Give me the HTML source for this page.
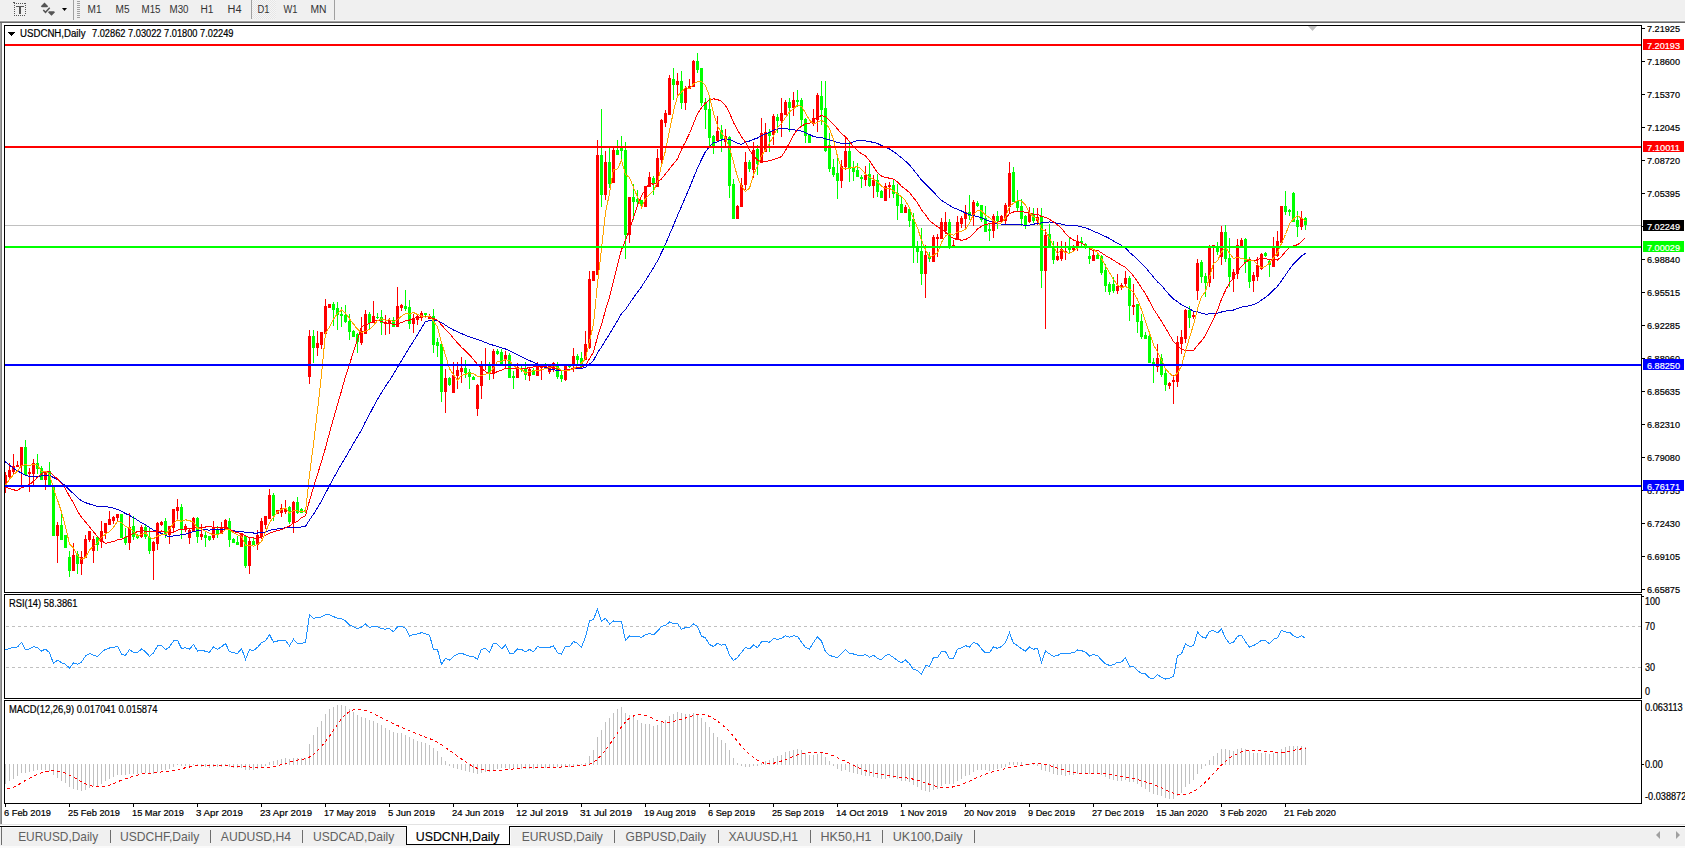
<!DOCTYPE html>
<html><head><meta charset="utf-8"><style>
html,body{margin:0;padding:0;background:#fff;}
body{width:1685px;height:848px;overflow:hidden;}
svg{display:block;font-family:"Liberation Sans", sans-serif;}
text{shape-rendering:auto}
</style></head><body>
<svg width="1685" height="848" viewBox="0 0 1685 848" shape-rendering="crispEdges">
<defs><clipPath id="cmain"><rect x="5" y="26" width="1636" height="566"/></clipPath>
<clipPath id="crsi"><rect x="5" y="595" width="1636" height="103"/></clipPath>
<clipPath id="cmacd"><rect x="5" y="701" width="1636" height="102"/></clipPath></defs>
<rect x="0" y="0" width="1685" height="21" fill="#f0f0f0"/><rect x="0" y="20" width="1685" height="1" fill="#f7f7f7"/><rect x="0" y="21" width="1685" height="1" fill="#a0a0a0"/><rect x="0" y="22" width="1685" height="1" fill="#696969"/><g fill="#555"><rect x="14" y="3" width="1" height="1"/><rect x="14" y="15" width="1" height="1"/><rect x="16" y="3" width="1" height="1"/><rect x="16" y="15" width="1" height="1"/><rect x="18" y="3" width="1" height="1"/><rect x="18" y="15" width="1" height="1"/><rect x="20" y="3" width="1" height="1"/><rect x="20" y="15" width="1" height="1"/><rect x="22" y="3" width="1" height="1"/><rect x="22" y="15" width="1" height="1"/><rect x="24" y="3" width="1" height="1"/><rect x="24" y="15" width="1" height="1"/><rect x="14" y="5" width="1" height="1"/><rect x="25" y="5" width="1" height="1"/><rect x="14" y="7" width="1" height="1"/><rect x="25" y="7" width="1" height="1"/><rect x="14" y="9" width="1" height="1"/><rect x="25" y="9" width="1" height="1"/><rect x="14" y="11" width="1" height="1"/><rect x="25" y="11" width="1" height="1"/><rect x="14" y="13" width="1" height="1"/><rect x="25" y="13" width="1" height="1"/><rect x="25" y="3" width="1" height="1"/><rect x="13" y="2" width="2" height="1"/><rect x="16" y="6" width="8" height="1"/><rect x="19" y="6" width="2" height="8"/></g><path d="M44.5 2.5L48.2 6.2L47.2 7.2H41.8L40.8 6.2Z M48 12.2L49 11.2H54L55 12.2L51.5 15.8Z" fill="#555" shape-rendering="auto"/><path d="M43.3 10L45.5 12.3L49.7 7.8" fill="none" stroke="#555" stroke-width="1.5" shape-rendering="auto"/><path d="M62 8H67L64.5 11Z" fill="#000" shape-rendering="auto"/><rect x="73" y="0" width="1" height="20" fill="#a0a0a0"/><rect x="77" y="1" width="3" height="1" fill="#a0a0a0"/><rect x="77" y="3" width="3" height="1" fill="#a0a0a0"/><rect x="77" y="5" width="3" height="1" fill="#a0a0a0"/><rect x="77" y="7" width="3" height="1" fill="#a0a0a0"/><rect x="77" y="9" width="3" height="1" fill="#a0a0a0"/><rect x="77" y="11" width="3" height="1" fill="#a0a0a0"/><rect x="77" y="13" width="3" height="1" fill="#a0a0a0"/><rect x="77" y="15" width="3" height="1" fill="#a0a0a0"/><rect x="77" y="17" width="3" height="1" fill="#a0a0a0"/><rect x="251" y="0" width="1" height="19" fill="#a0a0a0"/><defs><pattern id="chk" width="2" height="2" patternUnits="userSpaceOnUse"><rect width="2" height="2" fill="#f6f6f6"/><rect width="1" height="1" fill="#e6e6e6"/><rect x="1" y="1" width="1" height="1" fill="#e6e6e6"/></pattern></defs><rect x="252" y="0" width="24" height="19" fill="url(#chk)"/><rect x="334" y="0" width="1" height="20" fill="#a0a0a0"/><text x="87.5" y="13" font-size="10" fill="#333"  text-anchor="start" textLength="14.0" lengthAdjust="spacingAndGlyphs" >M1</text><text x="115.5" y="13" font-size="10" fill="#333"  text-anchor="start" textLength="14.0" lengthAdjust="spacingAndGlyphs" >M5</text><text x="141.5" y="13" font-size="10" fill="#333"  text-anchor="start" textLength="19.0" lengthAdjust="spacingAndGlyphs" >M15</text><text x="169.5" y="13" font-size="10" fill="#333"  text-anchor="start" textLength="19.0" lengthAdjust="spacingAndGlyphs" >M30</text><text x="200.5" y="13" font-size="10" fill="#333"  text-anchor="start" textLength="13.0" lengthAdjust="spacingAndGlyphs" >H1</text><text x="227.5" y="13" font-size="10" fill="#333"  text-anchor="start" textLength="14.0" lengthAdjust="spacingAndGlyphs" >H4</text><text x="257.5" y="13" font-size="10" fill="#333"  text-anchor="start" textLength="12.0" lengthAdjust="spacingAndGlyphs" >D1</text><text x="283.5" y="13" font-size="10" fill="#333"  text-anchor="start" textLength="14.0" lengthAdjust="spacingAndGlyphs" >W1</text><text x="310.5" y="13" font-size="10" fill="#333"  text-anchor="start" textLength="16.0" lengthAdjust="spacingAndGlyphs" >MN</text><rect x="0" y="23" width="1" height="803" fill="#a0a0a0"/><rect x="1" y="23" width="1" height="803" fill="#808080"/><path d="M4.5 25.5H1641.5V592.5H4.5Z" fill="none" stroke="#000" stroke-width="1"/><path d="M4.5 594.5H1641.5V698.5H4.5Z" fill="none" stroke="#000" stroke-width="1"/><path d="M4.5 700.5H1641.5V803.5H4.5Z" fill="none" stroke="#000" stroke-width="1"/><rect x="5" y="225" width="1636" height="1" fill="#c0c0c0"/><g clip-path="url(#cmain)"><rect x="5" y="472" width="1" height="21" fill="#ff0000"/><rect x="4" y="475" width="3" height="11" fill="#ff0000"/><rect x="9" y="463" width="1" height="15" fill="#ff0000"/><rect x="8" y="470" width="3" height="7" fill="#ff0000"/><rect x="13" y="454" width="1" height="21" fill="#ff0000"/><rect x="12" y="466" width="3" height="6" fill="#ff0000"/><rect x="17" y="461" width="1" height="6" fill="#ff0000"/><rect x="16" y="465" width="3" height="2" fill="#ff0000"/><rect x="21" y="447" width="1" height="38" fill="#ff0000"/><rect x="20" y="447" width="3" height="19" fill="#ff0000"/><rect x="25" y="440" width="1" height="35" fill="#00ff00"/><rect x="24" y="447" width="3" height="28" fill="#00ff00"/><rect x="29" y="468" width="1" height="24" fill="#ff0000"/><rect x="28" y="472" width="3" height="2" fill="#ff0000"/><rect x="33" y="459" width="1" height="27" fill="#ff0000"/><rect x="32" y="463" width="3" height="11" fill="#ff0000"/><rect x="37" y="454" width="1" height="20" fill="#00ff00"/><rect x="36" y="463" width="3" height="6" fill="#00ff00"/><rect x="41" y="466" width="1" height="14" fill="#00ff00"/><rect x="40" y="468" width="3" height="12" fill="#00ff00"/><rect x="45" y="471" width="1" height="19" fill="#ff0000"/><rect x="44" y="473" width="3" height="7" fill="#ff0000"/><rect x="49" y="462" width="1" height="24" fill="#00ff00"/><rect x="48" y="471" width="3" height="15" fill="#00ff00"/><rect x="53" y="485" width="1" height="51" fill="#00ff00"/><rect x="52" y="485" width="3" height="51" fill="#00ff00"/><rect x="57" y="522" width="1" height="41" fill="#ff0000"/><rect x="56" y="525" width="3" height="11" fill="#ff0000"/><rect x="61" y="514" width="1" height="26" fill="#00ff00"/><rect x="60" y="525" width="3" height="15" fill="#00ff00"/><rect x="65" y="535" width="1" height="13" fill="#00ff00"/><rect x="64" y="535" width="3" height="13" fill="#00ff00"/><rect x="69" y="551" width="1" height="26" fill="#00ff00"/><rect x="68" y="557" width="3" height="14" fill="#00ff00"/><rect x="73" y="543" width="1" height="28" fill="#ff0000"/><rect x="72" y="555" width="3" height="16" fill="#ff0000"/><rect x="77" y="551" width="1" height="23" fill="#00ff00"/><rect x="76" y="554" width="3" height="10" fill="#00ff00"/><rect x="81" y="551" width="1" height="24" fill="#ff0000"/><rect x="80" y="557" width="3" height="7" fill="#ff0000"/><rect x="85" y="535" width="1" height="23" fill="#ff0000"/><rect x="84" y="539" width="3" height="19" fill="#ff0000"/><rect x="89" y="531" width="1" height="11" fill="#ff0000"/><rect x="88" y="531" width="3" height="9" fill="#ff0000"/><rect x="93" y="536" width="1" height="27" fill="#ff0000"/><rect x="92" y="539" width="3" height="12" fill="#ff0000"/><rect x="97" y="537" width="1" height="14" fill="#00ff00"/><rect x="96" y="537" width="3" height="8" fill="#00ff00"/><rect x="101" y="521" width="1" height="27" fill="#ff0000"/><rect x="100" y="531" width="3" height="11" fill="#ff0000"/><rect x="105" y="523" width="1" height="16" fill="#ff0000"/><rect x="104" y="523" width="3" height="10" fill="#ff0000"/><rect x="109" y="511" width="1" height="14" fill="#ff0000"/><rect x="108" y="519" width="3" height="6" fill="#ff0000"/><rect x="113" y="516" width="1" height="8" fill="#ff0000"/><rect x="112" y="517" width="3" height="4" fill="#ff0000"/><rect x="117" y="514" width="1" height="8" fill="#ff0000"/><rect x="116" y="514" width="3" height="4" fill="#ff0000"/><rect x="121" y="514" width="1" height="24" fill="#00ff00"/><rect x="120" y="514" width="3" height="24" fill="#00ff00"/><rect x="125" y="528" width="1" height="17" fill="#00ff00"/><rect x="124" y="537" width="3" height="6" fill="#00ff00"/><rect x="129" y="513" width="1" height="37" fill="#ff0000"/><rect x="128" y="527" width="3" height="16" fill="#ff0000"/><rect x="133" y="516" width="1" height="24" fill="#00ff00"/><rect x="132" y="526" width="3" height="11" fill="#00ff00"/><rect x="137" y="534" width="1" height="5" fill="#00ff00"/><rect x="136" y="535" width="3" height="3" fill="#00ff00"/><rect x="141" y="525" width="1" height="13" fill="#ff0000"/><rect x="140" y="527" width="3" height="10" fill="#ff0000"/><rect x="145" y="525" width="1" height="14" fill="#00ff00"/><rect x="144" y="527" width="3" height="10" fill="#00ff00"/><rect x="149" y="527" width="1" height="27" fill="#00ff00"/><rect x="148" y="537" width="3" height="14" fill="#00ff00"/><rect x="153" y="541" width="1" height="39" fill="#ff0000"/><rect x="152" y="542" width="3" height="9" fill="#ff0000"/><rect x="157" y="522" width="1" height="28" fill="#ff0000"/><rect x="156" y="523" width="3" height="21" fill="#ff0000"/><rect x="161" y="521" width="1" height="5" fill="#ff0000"/><rect x="160" y="522" width="3" height="3" fill="#ff0000"/><rect x="165" y="518" width="1" height="20" fill="#00ff00"/><rect x="164" y="521" width="3" height="14" fill="#00ff00"/><rect x="169" y="526" width="1" height="18" fill="#ff0000"/><rect x="168" y="526" width="3" height="9" fill="#ff0000"/><rect x="173" y="509" width="1" height="24" fill="#ff0000"/><rect x="172" y="509" width="3" height="19" fill="#ff0000"/><rect x="177" y="499" width="1" height="21" fill="#ff0000"/><rect x="176" y="507" width="3" height="4" fill="#ff0000"/><rect x="181" y="504" width="1" height="35" fill="#00ff00"/><rect x="180" y="507" width="3" height="22" fill="#00ff00"/><rect x="185" y="524" width="1" height="8" fill="#ff0000"/><rect x="184" y="526" width="3" height="3" fill="#ff0000"/><rect x="189" y="529" width="1" height="15" fill="#ff0000"/><rect x="188" y="530" width="3" height="8" fill="#ff0000"/><rect x="193" y="517" width="1" height="15" fill="#ff0000"/><rect x="192" y="518" width="3" height="14" fill="#ff0000"/><rect x="197" y="517" width="1" height="26" fill="#00ff00"/><rect x="196" y="518" width="3" height="19" fill="#00ff00"/><rect x="201" y="524" width="1" height="16" fill="#ff0000"/><rect x="200" y="534" width="3" height="3" fill="#ff0000"/><rect x="205" y="532" width="1" height="15" fill="#00ff00"/><rect x="204" y="535" width="3" height="3" fill="#00ff00"/><rect x="209" y="536" width="1" height="5" fill="#00ff00"/><rect x="208" y="536" width="3" height="4" fill="#00ff00"/><rect x="213" y="521" width="1" height="19" fill="#ff0000"/><rect x="212" y="527" width="3" height="11" fill="#ff0000"/><rect x="217" y="526" width="1" height="12" fill="#00ff00"/><rect x="216" y="529" width="3" height="5" fill="#00ff00"/><rect x="221" y="522" width="1" height="12" fill="#ff0000"/><rect x="220" y="527" width="3" height="7" fill="#ff0000"/><rect x="225" y="519" width="1" height="11" fill="#ff0000"/><rect x="224" y="520" width="3" height="10" fill="#ff0000"/><rect x="229" y="518" width="1" height="29" fill="#00ff00"/><rect x="228" y="521" width="3" height="19" fill="#00ff00"/><rect x="233" y="538" width="1" height="5" fill="#00ff00"/><rect x="232" y="539" width="3" height="4" fill="#00ff00"/><rect x="237" y="536" width="1" height="9" fill="#00ff00"/><rect x="236" y="542" width="3" height="3" fill="#00ff00"/><rect x="241" y="533" width="1" height="14" fill="#ff0000"/><rect x="240" y="534" width="3" height="13" fill="#ff0000"/><rect x="245" y="535" width="1" height="33" fill="#00ff00"/><rect x="244" y="536" width="3" height="30" fill="#00ff00"/><rect x="249" y="538" width="1" height="36" fill="#ff0000"/><rect x="248" y="541" width="3" height="25" fill="#ff0000"/><rect x="253" y="538" width="1" height="7" fill="#00ff00"/><rect x="252" y="541" width="3" height="4" fill="#00ff00"/><rect x="257" y="530" width="1" height="20" fill="#ff0000"/><rect x="256" y="535" width="3" height="10" fill="#ff0000"/><rect x="261" y="518" width="1" height="21" fill="#ff0000"/><rect x="260" y="521" width="3" height="16" fill="#ff0000"/><rect x="265" y="516" width="1" height="13" fill="#ff0000"/><rect x="264" y="516" width="3" height="9" fill="#ff0000"/><rect x="269" y="489" width="1" height="30" fill="#ff0000"/><rect x="268" y="495" width="3" height="24" fill="#ff0000"/><rect x="273" y="493" width="1" height="28" fill="#00ff00"/><rect x="272" y="495" width="3" height="21" fill="#00ff00"/><rect x="277" y="510" width="1" height="4" fill="#ff0000"/><rect x="276" y="510" width="3" height="4" fill="#ff0000"/><rect x="281" y="504" width="1" height="13" fill="#ff0000"/><rect x="280" y="508" width="3" height="5" fill="#ff0000"/><rect x="285" y="500" width="1" height="14" fill="#ff0000"/><rect x="284" y="508" width="3" height="4" fill="#ff0000"/><rect x="289" y="506" width="1" height="18" fill="#00ff00"/><rect x="288" y="507" width="3" height="15" fill="#00ff00"/><rect x="293" y="501" width="1" height="32" fill="#ff0000"/><rect x="292" y="502" width="3" height="21" fill="#ff0000"/><rect x="297" y="497" width="1" height="17" fill="#00ff00"/><rect x="296" y="502" width="3" height="11" fill="#00ff00"/><rect x="301" y="508" width="1" height="5" fill="#00ff00"/><rect x="300" y="509" width="3" height="4" fill="#00ff00"/><rect x="305" y="509" width="1" height="4" fill="#00ff00"/><rect x="304" y="510" width="3" height="2" fill="#00ff00"/><rect x="309" y="330" width="1" height="54" fill="#ff0000"/><rect x="308" y="336" width="3" height="41" fill="#ff0000"/><rect x="313" y="330" width="1" height="33" fill="#00ff00"/><rect x="312" y="336" width="3" height="12" fill="#00ff00"/><rect x="317" y="331" width="1" height="25" fill="#ff0000"/><rect x="316" y="343" width="3" height="5" fill="#ff0000"/><rect x="321" y="332" width="1" height="17" fill="#ff0000"/><rect x="320" y="332" width="3" height="13" fill="#ff0000"/><rect x="325" y="299" width="1" height="35" fill="#ff0000"/><rect x="324" y="306" width="3" height="28" fill="#ff0000"/><rect x="329" y="304" width="1" height="4" fill="#ff0000"/><rect x="328" y="304" width="3" height="4" fill="#ff0000"/><rect x="333" y="302" width="1" height="24" fill="#00ff00"/><rect x="332" y="304" width="3" height="6" fill="#00ff00"/><rect x="337" y="302" width="1" height="28" fill="#00ff00"/><rect x="336" y="308" width="3" height="7" fill="#00ff00"/><rect x="341" y="307" width="1" height="20" fill="#00ff00"/><rect x="340" y="314" width="3" height="2" fill="#00ff00"/><rect x="345" y="305" width="1" height="18" fill="#00ff00"/><rect x="344" y="315" width="3" height="7" fill="#00ff00"/><rect x="349" y="314" width="1" height="26" fill="#00ff00"/><rect x="348" y="321" width="3" height="11" fill="#00ff00"/><rect x="353" y="330" width="1" height="7" fill="#00ff00"/><rect x="352" y="331" width="3" height="6" fill="#00ff00"/><rect x="357" y="333" width="1" height="20" fill="#00ff00"/><rect x="356" y="334" width="3" height="8" fill="#00ff00"/><rect x="361" y="317" width="1" height="28" fill="#ff0000"/><rect x="360" y="331" width="3" height="12" fill="#ff0000"/><rect x="365" y="310" width="1" height="24" fill="#ff0000"/><rect x="364" y="314" width="3" height="20" fill="#ff0000"/><rect x="369" y="312" width="1" height="17" fill="#00ff00"/><rect x="368" y="314" width="3" height="9" fill="#00ff00"/><rect x="373" y="301" width="1" height="22" fill="#ff0000"/><rect x="372" y="316" width="3" height="7" fill="#ff0000"/><rect x="377" y="313" width="1" height="6" fill="#00ff00"/><rect x="376" y="317" width="3" height="1" fill="#00ff00"/><rect x="381" y="310" width="1" height="25" fill="#00ff00"/><rect x="380" y="317" width="3" height="6" fill="#00ff00"/><rect x="385" y="315" width="1" height="20" fill="#ff0000"/><rect x="384" y="322" width="3" height="2" fill="#ff0000"/><rect x="389" y="318" width="1" height="16" fill="#ff0000"/><rect x="388" y="320" width="3" height="4" fill="#ff0000"/><rect x="393" y="317" width="1" height="10" fill="#00ff00"/><rect x="392" y="320" width="3" height="7" fill="#00ff00"/><rect x="397" y="287" width="1" height="40" fill="#ff0000"/><rect x="396" y="306" width="3" height="21" fill="#ff0000"/><rect x="401" y="304" width="1" height="7" fill="#ff0000"/><rect x="400" y="305" width="3" height="3" fill="#ff0000"/><rect x="405" y="290" width="1" height="21" fill="#00ff00"/><rect x="404" y="306" width="3" height="3" fill="#00ff00"/><rect x="409" y="300" width="1" height="29" fill="#00ff00"/><rect x="408" y="307" width="3" height="17" fill="#00ff00"/><rect x="413" y="314" width="1" height="19" fill="#ff0000"/><rect x="412" y="318" width="3" height="6" fill="#ff0000"/><rect x="417" y="315" width="1" height="10" fill="#ff0000"/><rect x="416" y="316" width="3" height="4" fill="#ff0000"/><rect x="421" y="311" width="1" height="10" fill="#ff0000"/><rect x="420" y="313" width="3" height="4" fill="#ff0000"/><rect x="425" y="313" width="1" height="3" fill="#00ff00"/><rect x="424" y="313" width="3" height="2" fill="#00ff00"/><rect x="429" y="314" width="1" height="5" fill="#ff0000"/><rect x="428" y="316" width="3" height="3" fill="#ff0000"/><rect x="433" y="309" width="1" height="44" fill="#00ff00"/><rect x="432" y="316" width="3" height="29" fill="#00ff00"/><rect x="437" y="338" width="1" height="19" fill="#00ff00"/><rect x="436" y="342" width="3" height="4" fill="#00ff00"/><rect x="441" y="344" width="1" height="58" fill="#00ff00"/><rect x="440" y="344" width="3" height="48" fill="#00ff00"/><rect x="445" y="369" width="1" height="44" fill="#ff0000"/><rect x="444" y="378" width="3" height="14" fill="#ff0000"/><rect x="449" y="377" width="1" height="9" fill="#00ff00"/><rect x="448" y="378" width="3" height="7" fill="#00ff00"/><rect x="453" y="362" width="1" height="31" fill="#ff0000"/><rect x="452" y="375" width="3" height="18" fill="#ff0000"/><rect x="457" y="362" width="1" height="27" fill="#ff0000"/><rect x="456" y="370" width="3" height="6" fill="#ff0000"/><rect x="461" y="357" width="1" height="26" fill="#ff0000"/><rect x="460" y="368" width="3" height="4" fill="#ff0000"/><rect x="465" y="360" width="1" height="18" fill="#00ff00"/><rect x="464" y="368" width="3" height="5" fill="#00ff00"/><rect x="469" y="369" width="1" height="20" fill="#00ff00"/><rect x="468" y="372" width="3" height="5" fill="#00ff00"/><rect x="473" y="376" width="1" height="4" fill="#00ff00"/><rect x="472" y="377" width="3" height="3" fill="#00ff00"/><rect x="477" y="384" width="1" height="32" fill="#ff0000"/><rect x="476" y="385" width="3" height="24" fill="#ff0000"/><rect x="481" y="361" width="1" height="38" fill="#ff0000"/><rect x="480" y="365" width="3" height="21" fill="#ff0000"/><rect x="485" y="348" width="1" height="22" fill="#ff0000"/><rect x="484" y="364" width="3" height="2" fill="#ff0000"/><rect x="489" y="362" width="1" height="18" fill="#00ff00"/><rect x="488" y="364" width="3" height="9" fill="#00ff00"/><rect x="493" y="349" width="1" height="30" fill="#ff0000"/><rect x="492" y="351" width="3" height="23" fill="#ff0000"/><rect x="497" y="349" width="1" height="6" fill="#00ff00"/><rect x="496" y="351" width="3" height="3" fill="#00ff00"/><rect x="501" y="349" width="1" height="16" fill="#00ff00"/><rect x="500" y="352" width="3" height="13" fill="#00ff00"/><rect x="505" y="351" width="1" height="17" fill="#ff0000"/><rect x="504" y="355" width="3" height="4" fill="#ff0000"/><rect x="509" y="353" width="1" height="25" fill="#00ff00"/><rect x="508" y="355" width="3" height="23" fill="#00ff00"/><rect x="513" y="371" width="1" height="18" fill="#00ff00"/><rect x="512" y="376" width="3" height="2" fill="#00ff00"/><rect x="517" y="363" width="1" height="15" fill="#ff0000"/><rect x="516" y="367" width="3" height="11" fill="#ff0000"/><rect x="521" y="366" width="1" height="6" fill="#00ff00"/><rect x="520" y="368" width="3" height="1" fill="#00ff00"/><rect x="525" y="362" width="1" height="18" fill="#00ff00"/><rect x="524" y="368" width="3" height="7" fill="#00ff00"/><rect x="529" y="368" width="1" height="13" fill="#ff0000"/><rect x="528" y="369" width="3" height="7" fill="#ff0000"/><rect x="533" y="368" width="1" height="7" fill="#00ff00"/><rect x="532" y="370" width="3" height="5" fill="#00ff00"/><rect x="537" y="362" width="1" height="14" fill="#ff0000"/><rect x="536" y="364" width="3" height="12" fill="#ff0000"/><rect x="541" y="365" width="1" height="15" fill="#ff0000"/><rect x="540" y="366" width="3" height="2" fill="#ff0000"/><rect x="545" y="363" width="1" height="5" fill="#00ff00"/><rect x="544" y="364" width="3" height="3" fill="#00ff00"/><rect x="549" y="364" width="1" height="10" fill="#ff0000"/><rect x="548" y="366" width="3" height="6" fill="#ff0000"/><rect x="553" y="362" width="1" height="10" fill="#ff0000"/><rect x="552" y="363" width="3" height="5" fill="#ff0000"/><rect x="557" y="362" width="1" height="17" fill="#00ff00"/><rect x="556" y="366" width="3" height="11" fill="#00ff00"/><rect x="561" y="371" width="1" height="11" fill="#00ff00"/><rect x="560" y="375" width="3" height="4" fill="#00ff00"/><rect x="565" y="365" width="1" height="16" fill="#ff0000"/><rect x="564" y="365" width="3" height="15" fill="#ff0000"/><rect x="569" y="364" width="1" height="4" fill="#00ff00"/><rect x="568" y="365" width="3" height="2" fill="#00ff00"/><rect x="573" y="348" width="1" height="24" fill="#ff0000"/><rect x="572" y="356" width="3" height="10" fill="#ff0000"/><rect x="577" y="354" width="1" height="11" fill="#00ff00"/><rect x="576" y="356" width="3" height="4" fill="#00ff00"/><rect x="581" y="352" width="1" height="16" fill="#00ff00"/><rect x="580" y="358" width="3" height="9" fill="#00ff00"/><rect x="585" y="331" width="1" height="29" fill="#ff0000"/><rect x="584" y="344" width="3" height="16" fill="#ff0000"/><rect x="589" y="271" width="1" height="78" fill="#ff0000"/><rect x="588" y="279" width="3" height="69" fill="#ff0000"/><rect x="593" y="271" width="1" height="10" fill="#ff0000"/><rect x="592" y="271" width="3" height="10" fill="#ff0000"/><rect x="597" y="140" width="1" height="135" fill="#ff0000"/><rect x="596" y="155" width="3" height="120" fill="#ff0000"/><rect x="601" y="109" width="1" height="98" fill="#00ff00"/><rect x="600" y="155" width="3" height="40" fill="#00ff00"/><rect x="605" y="151" width="1" height="49" fill="#ff0000"/><rect x="604" y="162" width="3" height="33" fill="#ff0000"/><rect x="609" y="148" width="1" height="40" fill="#00ff00"/><rect x="608" y="162" width="3" height="22" fill="#00ff00"/><rect x="613" y="148" width="1" height="35" fill="#ff0000"/><rect x="612" y="150" width="3" height="33" fill="#ff0000"/><rect x="617" y="140" width="1" height="15" fill="#00ff00"/><rect x="616" y="150" width="3" height="5" fill="#00ff00"/><rect x="621" y="136" width="1" height="25" fill="#00ff00"/><rect x="620" y="148" width="3" height="3" fill="#00ff00"/><rect x="625" y="142" width="1" height="117" fill="#00ff00"/><rect x="624" y="150" width="3" height="85" fill="#00ff00"/><rect x="629" y="197" width="1" height="46" fill="#ff0000"/><rect x="628" y="197" width="3" height="38" fill="#ff0000"/><rect x="633" y="184" width="1" height="36" fill="#00ff00"/><rect x="632" y="197" width="3" height="5" fill="#00ff00"/><rect x="637" y="190" width="1" height="15" fill="#00ff00"/><rect x="636" y="199" width="3" height="3" fill="#00ff00"/><rect x="641" y="200" width="1" height="7" fill="#00ff00"/><rect x="640" y="200" width="3" height="5" fill="#00ff00"/><rect x="645" y="186" width="1" height="21" fill="#ff0000"/><rect x="644" y="186" width="3" height="21" fill="#ff0000"/><rect x="649" y="172" width="1" height="15" fill="#ff0000"/><rect x="648" y="177" width="3" height="10" fill="#ff0000"/><rect x="653" y="176" width="1" height="19" fill="#00ff00"/><rect x="652" y="178" width="3" height="6" fill="#00ff00"/><rect x="657" y="149" width="1" height="38" fill="#ff0000"/><rect x="656" y="158" width="3" height="29" fill="#ff0000"/><rect x="661" y="119" width="1" height="46" fill="#ff0000"/><rect x="660" y="120" width="3" height="40" fill="#ff0000"/><rect x="665" y="110" width="1" height="17" fill="#ff0000"/><rect x="664" y="113" width="3" height="10" fill="#ff0000"/><rect x="669" y="75" width="1" height="40" fill="#ff0000"/><rect x="668" y="78" width="3" height="37" fill="#ff0000"/><rect x="673" y="68" width="1" height="32" fill="#00ff00"/><rect x="672" y="79" width="3" height="6" fill="#00ff00"/><rect x="677" y="73" width="1" height="22" fill="#ff0000"/><rect x="676" y="81" width="3" height="4" fill="#ff0000"/><rect x="681" y="71" width="1" height="38" fill="#00ff00"/><rect x="680" y="81" width="3" height="22" fill="#00ff00"/><rect x="685" y="86" width="1" height="24" fill="#ff0000"/><rect x="684" y="88" width="3" height="15" fill="#ff0000"/><rect x="689" y="79" width="1" height="10" fill="#ff0000"/><rect x="688" y="86" width="3" height="3" fill="#ff0000"/><rect x="693" y="60" width="1" height="27" fill="#ff0000"/><rect x="692" y="61" width="3" height="26" fill="#ff0000"/><rect x="697" y="53" width="1" height="20" fill="#00ff00"/><rect x="696" y="61" width="3" height="9" fill="#00ff00"/><rect x="701" y="68" width="1" height="38" fill="#00ff00"/><rect x="700" y="68" width="3" height="35" fill="#00ff00"/><rect x="705" y="98" width="1" height="31" fill="#00ff00"/><rect x="704" y="102" width="3" height="8" fill="#00ff00"/><rect x="709" y="98" width="1" height="49" fill="#00ff00"/><rect x="708" y="109" width="3" height="29" fill="#00ff00"/><rect x="713" y="135" width="1" height="19" fill="#00ff00"/><rect x="712" y="136" width="3" height="11" fill="#00ff00"/><rect x="717" y="116" width="1" height="25" fill="#ff0000"/><rect x="716" y="131" width="3" height="10" fill="#ff0000"/><rect x="721" y="125" width="1" height="27" fill="#00ff00"/><rect x="720" y="130" width="3" height="9" fill="#00ff00"/><rect x="725" y="129" width="1" height="18" fill="#ff0000"/><rect x="724" y="136" width="3" height="6" fill="#ff0000"/><rect x="729" y="136" width="1" height="62" fill="#00ff00"/><rect x="728" y="137" width="3" height="49" fill="#00ff00"/><rect x="733" y="179" width="1" height="40" fill="#00ff00"/><rect x="732" y="184" width="3" height="35" fill="#00ff00"/><rect x="737" y="205" width="1" height="14" fill="#ff0000"/><rect x="736" y="206" width="3" height="13" fill="#ff0000"/><rect x="741" y="178" width="1" height="29" fill="#ff0000"/><rect x="740" y="185" width="3" height="22" fill="#ff0000"/><rect x="745" y="152" width="1" height="38" fill="#ff0000"/><rect x="744" y="162" width="3" height="23" fill="#ff0000"/><rect x="749" y="160" width="1" height="12" fill="#00ff00"/><rect x="748" y="162" width="3" height="7" fill="#00ff00"/><rect x="753" y="142" width="1" height="36" fill="#ff0000"/><rect x="752" y="150" width="3" height="20" fill="#ff0000"/><rect x="757" y="145" width="1" height="30" fill="#00ff00"/><rect x="756" y="149" width="3" height="15" fill="#00ff00"/><rect x="761" y="118" width="1" height="45" fill="#ff0000"/><rect x="760" y="133" width="3" height="30" fill="#ff0000"/><rect x="765" y="123" width="1" height="29" fill="#ff0000"/><rect x="764" y="132" width="3" height="20" fill="#ff0000"/><rect x="769" y="129" width="1" height="23" fill="#00ff00"/><rect x="768" y="132" width="3" height="4" fill="#00ff00"/><rect x="773" y="114" width="1" height="31" fill="#ff0000"/><rect x="772" y="116" width="3" height="19" fill="#ff0000"/><rect x="777" y="114" width="1" height="19" fill="#00ff00"/><rect x="776" y="117" width="3" height="4" fill="#00ff00"/><rect x="781" y="98" width="1" height="39" fill="#ff0000"/><rect x="780" y="113" width="3" height="8" fill="#ff0000"/><rect x="785" y="100" width="1" height="15" fill="#ff0000"/><rect x="784" y="102" width="3" height="13" fill="#ff0000"/><rect x="789" y="98" width="1" height="34" fill="#00ff00"/><rect x="788" y="102" width="3" height="6" fill="#00ff00"/><rect x="793" y="92" width="1" height="24" fill="#ff0000"/><rect x="792" y="100" width="3" height="8" fill="#ff0000"/><rect x="797" y="90" width="1" height="17" fill="#00ff00"/><rect x="796" y="100" width="3" height="2" fill="#00ff00"/><rect x="801" y="98" width="1" height="28" fill="#00ff00"/><rect x="800" y="100" width="3" height="20" fill="#00ff00"/><rect x="805" y="118" width="1" height="25" fill="#00ff00"/><rect x="804" y="119" width="3" height="17" fill="#00ff00"/><rect x="809" y="135" width="1" height="8" fill="#00ff00"/><rect x="808" y="135" width="3" height="8" fill="#00ff00"/><rect x="813" y="109" width="1" height="17" fill="#ff0000"/><rect x="812" y="118" width="3" height="6" fill="#ff0000"/><rect x="817" y="93" width="1" height="39" fill="#ff0000"/><rect x="816" y="95" width="3" height="25" fill="#ff0000"/><rect x="821" y="81" width="1" height="44" fill="#00ff00"/><rect x="820" y="96" width="3" height="14" fill="#00ff00"/><rect x="825" y="81" width="1" height="71" fill="#00ff00"/><rect x="824" y="108" width="3" height="43" fill="#00ff00"/><rect x="829" y="133" width="1" height="39" fill="#00ff00"/><rect x="828" y="145" width="3" height="24" fill="#00ff00"/><rect x="833" y="159" width="1" height="18" fill="#00ff00"/><rect x="832" y="167" width="3" height="8" fill="#00ff00"/><rect x="837" y="156" width="1" height="43" fill="#00ff00"/><rect x="836" y="173" width="3" height="8" fill="#00ff00"/><rect x="841" y="160" width="1" height="28" fill="#ff0000"/><rect x="840" y="166" width="3" height="15" fill="#ff0000"/><rect x="845" y="136" width="1" height="34" fill="#ff0000"/><rect x="844" y="151" width="3" height="16" fill="#ff0000"/><rect x="849" y="141" width="1" height="41" fill="#00ff00"/><rect x="848" y="151" width="3" height="18" fill="#00ff00"/><rect x="853" y="161" width="1" height="20" fill="#00ff00"/><rect x="852" y="168" width="3" height="4" fill="#00ff00"/><rect x="857" y="163" width="1" height="14" fill="#00ff00"/><rect x="856" y="170" width="3" height="7" fill="#00ff00"/><rect x="861" y="175" width="1" height="13" fill="#00ff00"/><rect x="860" y="177" width="3" height="2" fill="#00ff00"/><rect x="865" y="166" width="1" height="20" fill="#ff0000"/><rect x="864" y="175" width="3" height="5" fill="#ff0000"/><rect x="869" y="163" width="1" height="24" fill="#00ff00"/><rect x="868" y="174" width="3" height="12" fill="#00ff00"/><rect x="873" y="175" width="1" height="23" fill="#ff0000"/><rect x="872" y="180" width="3" height="6" fill="#ff0000"/><rect x="877" y="174" width="1" height="23" fill="#00ff00"/><rect x="876" y="180" width="3" height="12" fill="#00ff00"/><rect x="881" y="190" width="1" height="8" fill="#00ff00"/><rect x="880" y="191" width="3" height="7" fill="#00ff00"/><rect x="885" y="183" width="1" height="18" fill="#ff0000"/><rect x="884" y="186" width="3" height="15" fill="#ff0000"/><rect x="889" y="182" width="1" height="16" fill="#ff0000"/><rect x="888" y="185" width="3" height="2" fill="#ff0000"/><rect x="893" y="179" width="1" height="19" fill="#00ff00"/><rect x="892" y="185" width="3" height="9" fill="#00ff00"/><rect x="897" y="184" width="1" height="36" fill="#00ff00"/><rect x="896" y="193" width="3" height="13" fill="#00ff00"/><rect x="901" y="197" width="1" height="16" fill="#00ff00"/><rect x="900" y="204" width="3" height="9" fill="#00ff00"/><rect x="905" y="205" width="1" height="8" fill="#ff0000"/><rect x="904" y="207" width="3" height="6" fill="#ff0000"/><rect x="909" y="209" width="1" height="18" fill="#00ff00"/><rect x="908" y="209" width="3" height="12" fill="#00ff00"/><rect x="913" y="213" width="1" height="50" fill="#00ff00"/><rect x="912" y="219" width="3" height="29" fill="#00ff00"/><rect x="917" y="241" width="1" height="22" fill="#00ff00"/><rect x="916" y="247" width="3" height="5" fill="#00ff00"/><rect x="921" y="228" width="1" height="57" fill="#00ff00"/><rect x="920" y="251" width="3" height="23" fill="#00ff00"/><rect x="925" y="245" width="1" height="53" fill="#ff0000"/><rect x="924" y="255" width="3" height="19" fill="#ff0000"/><rect x="929" y="252" width="1" height="10" fill="#00ff00"/><rect x="928" y="256" width="3" height="3" fill="#00ff00"/><rect x="933" y="235" width="1" height="27" fill="#ff0000"/><rect x="932" y="237" width="3" height="25" fill="#ff0000"/><rect x="937" y="234" width="1" height="23" fill="#ff0000"/><rect x="936" y="237" width="3" height="2" fill="#ff0000"/><rect x="941" y="218" width="1" height="21" fill="#ff0000"/><rect x="940" y="222" width="3" height="17" fill="#ff0000"/><rect x="945" y="212" width="1" height="22" fill="#ff0000"/><rect x="944" y="222" width="3" height="9" fill="#ff0000"/><rect x="949" y="219" width="1" height="30" fill="#00ff00"/><rect x="948" y="222" width="3" height="26" fill="#00ff00"/><rect x="953" y="240" width="1" height="7" fill="#ff0000"/><rect x="952" y="245" width="3" height="2" fill="#ff0000"/><rect x="957" y="216" width="1" height="24" fill="#ff0000"/><rect x="956" y="222" width="3" height="18" fill="#ff0000"/><rect x="961" y="216" width="1" height="12" fill="#ff0000"/><rect x="960" y="218" width="3" height="6" fill="#ff0000"/><rect x="965" y="205" width="1" height="24" fill="#ff0000"/><rect x="964" y="212" width="3" height="7" fill="#ff0000"/><rect x="969" y="195" width="1" height="25" fill="#00ff00"/><rect x="968" y="212" width="3" height="4" fill="#00ff00"/><rect x="973" y="200" width="1" height="26" fill="#ff0000"/><rect x="972" y="202" width="3" height="14" fill="#ff0000"/><rect x="977" y="201" width="1" height="6" fill="#00ff00"/><rect x="976" y="203" width="3" height="3" fill="#00ff00"/><rect x="981" y="205" width="1" height="17" fill="#00ff00"/><rect x="980" y="205" width="3" height="15" fill="#00ff00"/><rect x="985" y="206" width="1" height="26" fill="#00ff00"/><rect x="984" y="218" width="3" height="14" fill="#00ff00"/><rect x="989" y="224" width="1" height="17" fill="#00ff00"/><rect x="988" y="229" width="3" height="2" fill="#00ff00"/><rect x="993" y="214" width="1" height="24" fill="#ff0000"/><rect x="992" y="216" width="3" height="15" fill="#ff0000"/><rect x="997" y="211" width="1" height="18" fill="#00ff00"/><rect x="996" y="216" width="3" height="5" fill="#00ff00"/><rect x="1001" y="215" width="1" height="6" fill="#ff0000"/><rect x="1000" y="216" width="3" height="5" fill="#ff0000"/><rect x="1005" y="203" width="1" height="21" fill="#ff0000"/><rect x="1004" y="205" width="3" height="16" fill="#ff0000"/><rect x="1009" y="162" width="1" height="51" fill="#ff0000"/><rect x="1008" y="173" width="3" height="34" fill="#ff0000"/><rect x="1013" y="167" width="1" height="35" fill="#00ff00"/><rect x="1012" y="172" width="3" height="30" fill="#00ff00"/><rect x="1017" y="190" width="1" height="21" fill="#00ff00"/><rect x="1016" y="201" width="3" height="7" fill="#00ff00"/><rect x="1021" y="199" width="1" height="27" fill="#00ff00"/><rect x="1020" y="206" width="3" height="13" fill="#00ff00"/><rect x="1025" y="215" width="1" height="14" fill="#00ff00"/><rect x="1024" y="216" width="3" height="9" fill="#00ff00"/><rect x="1029" y="207" width="1" height="16" fill="#ff0000"/><rect x="1028" y="213" width="3" height="9" fill="#ff0000"/><rect x="1033" y="208" width="1" height="15" fill="#00ff00"/><rect x="1032" y="214" width="3" height="7" fill="#00ff00"/><rect x="1037" y="208" width="1" height="17" fill="#ff0000"/><rect x="1036" y="217" width="3" height="4" fill="#ff0000"/><rect x="1041" y="208" width="1" height="80" fill="#00ff00"/><rect x="1040" y="217" width="3" height="54" fill="#00ff00"/><rect x="1045" y="229" width="1" height="100" fill="#ff0000"/><rect x="1044" y="235" width="3" height="36" fill="#ff0000"/><rect x="1049" y="224" width="1" height="23" fill="#00ff00"/><rect x="1048" y="234" width="3" height="13" fill="#00ff00"/><rect x="1053" y="241" width="1" height="23" fill="#00ff00"/><rect x="1052" y="248" width="3" height="12" fill="#00ff00"/><rect x="1057" y="242" width="1" height="19" fill="#ff0000"/><rect x="1056" y="256" width="3" height="4" fill="#ff0000"/><rect x="1061" y="241" width="1" height="20" fill="#ff0000"/><rect x="1060" y="249" width="3" height="10" fill="#ff0000"/><rect x="1065" y="242" width="1" height="18" fill="#ff0000"/><rect x="1064" y="251" width="3" height="2" fill="#ff0000"/><rect x="1069" y="237" width="1" height="17" fill="#00ff00"/><rect x="1068" y="248" width="3" height="2" fill="#00ff00"/><rect x="1073" y="245" width="1" height="6" fill="#ff0000"/><rect x="1072" y="248" width="3" height="2" fill="#ff0000"/><rect x="1077" y="235" width="1" height="16" fill="#ff0000"/><rect x="1076" y="241" width="3" height="6" fill="#ff0000"/><rect x="1081" y="237" width="1" height="9" fill="#00ff00"/><rect x="1080" y="241" width="3" height="2" fill="#00ff00"/><rect x="1085" y="243" width="1" height="6" fill="#00ff00"/><rect x="1084" y="244" width="3" height="4" fill="#00ff00"/><rect x="1089" y="249" width="1" height="15" fill="#00ff00"/><rect x="1088" y="256" width="3" height="3" fill="#00ff00"/><rect x="1093" y="249" width="1" height="12" fill="#ff0000"/><rect x="1092" y="255" width="3" height="6" fill="#ff0000"/><rect x="1097" y="254" width="1" height="5" fill="#00ff00"/><rect x="1096" y="255" width="3" height="4" fill="#00ff00"/><rect x="1101" y="255" width="1" height="20" fill="#00ff00"/><rect x="1100" y="256" width="3" height="17" fill="#00ff00"/><rect x="1105" y="264" width="1" height="28" fill="#00ff00"/><rect x="1104" y="270" width="3" height="16" fill="#00ff00"/><rect x="1109" y="282" width="1" height="13" fill="#00ff00"/><rect x="1108" y="284" width="3" height="8" fill="#00ff00"/><rect x="1113" y="277" width="1" height="16" fill="#00ff00"/><rect x="1112" y="284" width="3" height="7" fill="#00ff00"/><rect x="1117" y="274" width="1" height="20" fill="#ff0000"/><rect x="1116" y="286" width="3" height="5" fill="#ff0000"/><rect x="1121" y="283" width="1" height="7" fill="#ff0000"/><rect x="1120" y="285" width="3" height="2" fill="#ff0000"/><rect x="1125" y="271" width="1" height="16" fill="#ff0000"/><rect x="1124" y="278" width="3" height="6" fill="#ff0000"/><rect x="1129" y="276" width="1" height="45" fill="#00ff00"/><rect x="1128" y="278" width="3" height="28" fill="#00ff00"/><rect x="1133" y="284" width="1" height="31" fill="#ff0000"/><rect x="1132" y="305" width="3" height="2" fill="#ff0000"/><rect x="1137" y="304" width="1" height="29" fill="#00ff00"/><rect x="1136" y="304" width="3" height="18" fill="#00ff00"/><rect x="1141" y="314" width="1" height="25" fill="#00ff00"/><rect x="1140" y="321" width="3" height="16" fill="#00ff00"/><rect x="1145" y="332" width="1" height="7" fill="#00ff00"/><rect x="1144" y="335" width="3" height="4" fill="#00ff00"/><rect x="1149" y="334" width="1" height="29" fill="#00ff00"/><rect x="1148" y="336" width="3" height="27" fill="#00ff00"/><rect x="1153" y="358" width="1" height="25" fill="#00ff00"/><rect x="1152" y="362" width="3" height="3" fill="#00ff00"/><rect x="1157" y="344" width="1" height="28" fill="#ff0000"/><rect x="1156" y="358" width="3" height="9" fill="#ff0000"/><rect x="1161" y="354" width="1" height="23" fill="#00ff00"/><rect x="1160" y="358" width="3" height="17" fill="#00ff00"/><rect x="1165" y="369" width="1" height="22" fill="#00ff00"/><rect x="1164" y="373" width="3" height="12" fill="#00ff00"/><rect x="1169" y="382" width="1" height="7" fill="#ff0000"/><rect x="1168" y="383" width="3" height="3" fill="#ff0000"/><rect x="1173" y="375" width="1" height="29" fill="#ff0000"/><rect x="1172" y="380" width="3" height="2" fill="#ff0000"/><rect x="1177" y="336" width="1" height="51" fill="#ff0000"/><rect x="1176" y="342" width="3" height="40" fill="#ff0000"/><rect x="1181" y="330" width="1" height="24" fill="#ff0000"/><rect x="1180" y="337" width="3" height="7" fill="#ff0000"/><rect x="1185" y="309" width="1" height="34" fill="#ff0000"/><rect x="1184" y="310" width="3" height="29" fill="#ff0000"/><rect x="1189" y="306" width="1" height="22" fill="#00ff00"/><rect x="1188" y="310" width="3" height="8" fill="#00ff00"/><rect x="1193" y="311" width="1" height="8" fill="#ff0000"/><rect x="1192" y="315" width="3" height="2" fill="#ff0000"/><rect x="1197" y="259" width="1" height="41" fill="#ff0000"/><rect x="1196" y="263" width="3" height="28" fill="#ff0000"/><rect x="1201" y="260" width="1" height="23" fill="#00ff00"/><rect x="1200" y="262" width="3" height="15" fill="#00ff00"/><rect x="1205" y="273" width="1" height="24" fill="#00ff00"/><rect x="1204" y="276" width="3" height="7" fill="#00ff00"/><rect x="1209" y="245" width="1" height="42" fill="#ff0000"/><rect x="1208" y="247" width="3" height="36" fill="#ff0000"/><rect x="1213" y="245" width="1" height="34" fill="#ff0000"/><rect x="1212" y="245" width="3" height="3" fill="#ff0000"/><rect x="1217" y="242" width="1" height="13" fill="#00ff00"/><rect x="1216" y="246" width="3" height="6" fill="#00ff00"/><rect x="1221" y="226" width="1" height="39" fill="#ff0000"/><rect x="1220" y="232" width="3" height="25" fill="#ff0000"/><rect x="1225" y="225" width="1" height="37" fill="#00ff00"/><rect x="1224" y="232" width="3" height="27" fill="#00ff00"/><rect x="1229" y="238" width="1" height="49" fill="#00ff00"/><rect x="1228" y="258" width="3" height="19" fill="#00ff00"/><rect x="1233" y="269" width="1" height="23" fill="#ff0000"/><rect x="1232" y="272" width="3" height="7" fill="#ff0000"/><rect x="1237" y="239" width="1" height="40" fill="#ff0000"/><rect x="1236" y="245" width="3" height="29" fill="#ff0000"/><rect x="1241" y="238" width="1" height="8" fill="#ff0000"/><rect x="1240" y="240" width="3" height="6" fill="#ff0000"/><rect x="1245" y="238" width="1" height="35" fill="#00ff00"/><rect x="1244" y="239" width="3" height="23" fill="#00ff00"/><rect x="1249" y="257" width="1" height="31" fill="#00ff00"/><rect x="1248" y="260" width="3" height="22" fill="#00ff00"/><rect x="1253" y="272" width="1" height="20" fill="#ff0000"/><rect x="1252" y="275" width="3" height="6" fill="#ff0000"/><rect x="1257" y="257" width="1" height="24" fill="#ff0000"/><rect x="1256" y="265" width="3" height="12" fill="#ff0000"/><rect x="1261" y="253" width="1" height="17" fill="#ff0000"/><rect x="1260" y="254" width="3" height="15" fill="#ff0000"/><rect x="1265" y="252" width="1" height="5" fill="#00ff00"/><rect x="1264" y="253" width="3" height="3" fill="#00ff00"/><rect x="1269" y="260" width="1" height="17" fill="#00ff00"/><rect x="1268" y="261" width="3" height="4" fill="#00ff00"/><rect x="1273" y="237" width="1" height="30" fill="#ff0000"/><rect x="1272" y="247" width="3" height="20" fill="#ff0000"/><rect x="1277" y="231" width="1" height="26" fill="#ff0000"/><rect x="1276" y="241" width="3" height="15" fill="#ff0000"/><rect x="1281" y="206" width="1" height="37" fill="#ff0000"/><rect x="1280" y="206" width="3" height="37" fill="#ff0000"/><rect x="1285" y="191" width="1" height="24" fill="#00ff00"/><rect x="1284" y="206" width="3" height="6" fill="#00ff00"/><rect x="1289" y="209" width="1" height="7" fill="#00ff00"/><rect x="1288" y="210" width="3" height="2" fill="#00ff00"/><rect x="1293" y="192" width="1" height="30" fill="#00ff00"/><rect x="1292" y="193" width="3" height="29" fill="#00ff00"/><rect x="1297" y="211" width="1" height="26" fill="#00ff00"/><rect x="1296" y="220" width="3" height="7" fill="#00ff00"/><rect x="1301" y="211" width="1" height="19" fill="#ff0000"/><rect x="1300" y="218" width="3" height="9" fill="#ff0000"/><rect x="1305" y="217" width="1" height="13" fill="#00ff00"/><rect x="1304" y="218" width="3" height="7" fill="#00ff00"/><polyline points="1.5,458.5 5.5,462.0 9.5,465.3 13.5,468.4 17.5,471.1 21.5,473.0 25.5,475.2 29.5,476.5 33.5,476.6 37.5,476.3 41.5,476.0 45.5,475.5 49.5,475.5 53.5,477.5 57.5,479.6 61.5,482.5 65.5,485.8 69.5,490.1 73.5,493.7 77.5,497.6 81.5,500.8 85.5,502.7 89.5,504.0 93.5,505.3 97.5,506.6 101.5,506.8 105.5,506.7 109.5,507.3 113.5,508.2 117.5,509.3 121.5,511.3 125.5,513.5 129.5,515.4 133.5,517.7 137.5,520.1 141.5,522.8 145.5,524.9 149.5,527.5 153.5,530.1 157.5,531.9 161.5,533.4 165.5,535.4 169.5,536.7 173.5,535.9 177.5,535.3 181.5,534.9 185.5,534.2 189.5,532.9 193.5,531.6 197.5,530.7 201.5,529.9 205.5,529.8 209.5,530.1 213.5,529.7 217.5,529.3 221.5,529.2 225.5,529.1 229.5,529.8 233.5,530.6 237.5,531.6 241.5,531.5 245.5,532.2 249.5,532.7 253.5,533.0 257.5,533.0 261.5,532.8 265.5,532.1 269.5,530.3 273.5,529.4 277.5,528.9 281.5,528.5 285.5,527.7 289.5,527.5 293.5,527.3 297.5,527.4 301.5,526.9 305.5,526.4 309.5,519.9 313.5,514.2 317.5,507.8 321.5,501.1 325.5,493.4 329.5,485.5 333.5,478.3 337.5,471.0 341.5,463.9 345.5,457.3 349.5,450.4 353.5,443.5 357.5,436.7 361.5,429.9 365.5,421.6 369.5,414.3 373.5,406.7 377.5,399.4 381.5,392.8 385.5,386.3 389.5,380.5 393.5,374.2 397.5,367.4 401.5,360.6 405.5,353.9 409.5,347.3 413.5,341.2 417.5,334.6 421.5,328.0 425.5,321.4 429.5,320.8 433.5,320.7 437.5,320.7 441.5,322.7 445.5,325.1 449.5,327.8 453.5,330.0 457.5,331.8 461.5,333.6 465.5,335.3 469.5,336.8 473.5,338.2 477.5,339.7 481.5,340.8 485.5,342.5 489.5,344.1 493.5,345.3 497.5,346.5 501.5,347.9 505.5,349.0 509.5,350.9 513.5,352.6 517.5,354.6 521.5,356.7 525.5,358.9 529.5,360.5 533.5,362.4 537.5,363.9 541.5,365.7 545.5,367.4 549.5,369.1 553.5,369.7 557.5,370.8 561.5,370.3 565.5,369.9 569.5,369.3 573.5,368.7 577.5,368.3 581.5,368.3 585.5,367.3 589.5,364.1 593.5,360.5 597.5,352.8 601.5,347.1 605.5,340.4 609.5,334.1 613.5,327.4 617.5,320.7 621.5,313.6 625.5,309.6 629.5,303.6 633.5,297.7 637.5,292.2 641.5,286.7 645.5,280.5 649.5,274.1 653.5,267.7 657.5,260.8 661.5,252.6 665.5,244.2 669.5,234.6 673.5,225.3 677.5,215.5 681.5,206.3 685.5,197.0 689.5,187.7 693.5,177.8 697.5,168.1 701.5,159.4 705.5,151.6 709.5,146.8 713.5,142.7 717.5,141.9 721.5,140.0 725.5,139.2 729.5,139.2 733.5,141.5 737.5,143.2 741.5,144.4 745.5,142.0 749.5,141.0 753.5,139.3 757.5,138.1 761.5,135.7 765.5,133.9 769.5,132.5 773.5,130.2 777.5,129.0 781.5,128.7 785.5,128.4 789.5,129.3 793.5,129.8 797.5,130.5 801.5,131.1 805.5,132.7 809.5,134.5 813.5,136.5 817.5,137.3 821.5,137.6 825.5,138.9 829.5,139.9 833.5,140.9 837.5,142.5 841.5,143.4 845.5,143.9 849.5,143.3 853.5,141.8 857.5,140.7 861.5,140.5 865.5,141.0 869.5,141.5 873.5,142.5 877.5,143.4 881.5,145.6 885.5,147.4 889.5,149.0 893.5,151.6 897.5,154.5 901.5,157.8 905.5,161.2 909.5,165.0 913.5,169.9 917.5,174.9 921.5,180.0 925.5,184.0 929.5,187.9 933.5,191.9 937.5,196.6 941.5,200.4 945.5,202.8 949.5,205.4 953.5,207.8 957.5,209.2 961.5,211.0 965.5,213.0 969.5,214.6 973.5,215.6 977.5,216.6 981.5,217.9 985.5,219.8 989.5,221.3 993.5,222.5 997.5,223.5 1001.5,224.1 1005.5,224.7 1009.5,224.3 1013.5,224.5 1017.5,224.6 1021.5,224.8 1025.5,225.4 1029.5,225.2 1033.5,224.3 1037.5,223.1 1041.5,223.0 1045.5,222.4 1049.5,221.9 1053.5,222.7 1057.5,223.3 1061.5,224.2 1065.5,225.2 1069.5,225.2 1073.5,225.3 1077.5,225.9 1081.5,226.8 1085.5,227.9 1089.5,229.4 1093.5,231.2 1097.5,232.9 1101.5,234.7 1105.5,236.5 1109.5,238.5 1113.5,241.0 1117.5,243.2 1121.5,245.5 1125.5,247.9 1129.5,252.3 1133.5,255.8 1137.5,259.6 1141.5,263.6 1145.5,267.4 1149.5,272.3 1153.5,277.1 1157.5,281.9 1161.5,285.3 1165.5,290.3 1169.5,294.9 1173.5,298.9 1177.5,301.8 1181.5,304.7 1185.5,306.7 1189.5,308.9 1193.5,311.2 1197.5,311.9 1201.5,313.1 1205.5,314.2 1209.5,313.9 1213.5,313.5 1217.5,313.3 1221.5,312.0 1225.5,311.1 1229.5,310.6 1233.5,310.0 1237.5,308.6 1241.5,307.1 1245.5,306.6 1249.5,305.7 1253.5,304.7 1257.5,302.9 1261.5,300.1 1265.5,297.4 1269.5,294.1 1273.5,290.2 1277.5,286.3 1281.5,280.7 1285.5,275.0 1289.5,269.2 1293.5,263.9 1297.5,260.1 1301.5,256.1 1305.5,253.3" fill="none" stroke="#0000cd" stroke-width="1" /><polyline points="1.5,484.6 5.5,486.8 9.5,488.6 13.5,489.9 17.5,490.3 21.5,487.8 25.5,486.4 29.5,484.5 33.5,481.3 37.5,477.2 41.5,473.9 45.5,471.9 49.5,471.6 53.5,475.5 57.5,478.9 61.5,483.4 65.5,488.9 69.5,496.4 73.5,502.8 77.5,511.1 81.5,517.1 85.5,521.9 89.5,526.8 93.5,531.9 97.5,536.5 101.5,540.7 105.5,543.4 109.5,542.2 113.5,541.6 117.5,539.9 121.5,539.1 125.5,537.1 129.5,535.1 133.5,533.1 137.5,531.6 141.5,530.8 145.5,531.1 149.5,531.9 153.5,531.7 157.5,531.1 161.5,531.0 165.5,532.1 169.5,532.7 173.5,532.4 177.5,530.2 181.5,529.2 185.5,529.2 189.5,528.8 193.5,527.5 197.5,528.1 201.5,527.9 205.5,527.0 209.5,526.8 213.5,527.1 217.5,527.9 221.5,527.4 225.5,527.0 229.5,529.1 233.5,531.6 237.5,532.8 241.5,533.3 245.5,535.8 249.5,537.5 253.5,538.0 257.5,538.1 261.5,537.1 265.5,535.4 269.5,533.1 273.5,531.8 277.5,530.6 281.5,529.8 285.5,527.6 289.5,526.1 293.5,523.1 297.5,521.5 301.5,517.7 305.5,515.6 309.5,500.7 313.5,487.3 317.5,474.5 321.5,461.4 325.5,447.9 329.5,432.8 333.5,418.4 337.5,404.6 341.5,390.8 345.5,376.5 349.5,364.3 353.5,351.7 357.5,339.5 361.5,326.7 365.5,325.1 369.5,323.4 373.5,321.4 377.5,320.3 381.5,321.5 385.5,322.8 389.5,323.5 393.5,324.4 397.5,323.7 401.5,322.6 405.5,320.9 409.5,320.0 413.5,318.4 417.5,317.3 421.5,317.2 425.5,316.6 429.5,316.6 433.5,318.6 437.5,320.2 441.5,325.1 445.5,329.3 449.5,333.4 453.5,338.3 457.5,343.0 461.5,347.3 465.5,350.8 469.5,355.0 473.5,359.4 477.5,364.6 481.5,368.2 485.5,371.6 489.5,373.6 493.5,374.0 497.5,371.4 501.5,370.4 505.5,368.3 509.5,368.4 513.5,368.9 517.5,368.8 521.5,368.5 525.5,368.3 529.5,367.7 533.5,366.9 537.5,366.9 541.5,367.0 545.5,366.5 549.5,367.6 553.5,368.3 557.5,369.1 561.5,370.8 565.5,370.0 569.5,369.3 573.5,368.5 577.5,367.8 581.5,367.3 585.5,365.5 589.5,358.6 593.5,352.0 597.5,336.9 601.5,324.6 605.5,310.1 609.5,297.2 613.5,281.1 617.5,265.1 621.5,249.7 625.5,240.2 629.5,228.9 633.5,217.5 637.5,205.7 641.5,195.8 645.5,189.2 649.5,182.5 653.5,184.5 657.5,181.9 661.5,178.9 665.5,173.9 669.5,168.8 673.5,163.8 677.5,158.9 681.5,149.5 685.5,141.7 689.5,133.5 693.5,123.5 697.5,113.8 701.5,107.8 705.5,103.0 709.5,99.7 713.5,98.8 717.5,99.6 721.5,101.4 725.5,105.6 729.5,112.8 733.5,122.5 737.5,129.9 741.5,136.8 745.5,142.3 749.5,150.0 753.5,155.8 757.5,160.1 761.5,161.8 765.5,161.5 769.5,160.7 773.5,159.6 777.5,158.2 781.5,156.6 785.5,150.6 789.5,142.7 793.5,135.2 797.5,129.2 801.5,126.2 805.5,123.8 809.5,123.2 813.5,120.0 817.5,117.3 821.5,115.6 825.5,116.7 829.5,120.5 833.5,124.3 837.5,129.1 841.5,133.6 845.5,136.8 849.5,141.6 853.5,146.6 857.5,150.6 861.5,153.7 865.5,156.0 869.5,160.8 873.5,166.8 877.5,172.7 881.5,176.1 885.5,177.4 889.5,178.2 893.5,179.1 897.5,181.9 901.5,186.3 905.5,189.1 909.5,192.6 913.5,197.7 917.5,202.9 921.5,209.9 925.5,214.9 929.5,220.6 933.5,223.8 937.5,226.7 941.5,229.3 945.5,231.9 949.5,235.7 953.5,238.6 957.5,239.4 961.5,240.2 965.5,239.5 969.5,237.3 973.5,233.8 977.5,228.9 981.5,226.3 985.5,224.3 989.5,223.8 993.5,222.3 997.5,222.1 1001.5,221.7 1005.5,218.7 1009.5,213.5 1013.5,212.0 1017.5,211.2 1021.5,211.7 1025.5,212.3 1029.5,213.1 1033.5,214.2 1037.5,214.0 1041.5,216.8 1045.5,217.2 1049.5,219.3 1053.5,222.1 1057.5,225.0 1061.5,228.2 1065.5,233.7 1069.5,237.2 1073.5,240.1 1077.5,241.8 1081.5,243.1 1085.5,245.5 1089.5,248.2 1093.5,251.0 1097.5,250.1 1101.5,252.8 1105.5,255.5 1109.5,257.8 1113.5,260.2 1117.5,262.8 1121.5,265.3 1125.5,267.3 1129.5,271.4 1133.5,276.0 1137.5,281.6 1141.5,288.0 1145.5,293.7 1149.5,301.3 1153.5,308.9 1157.5,315.1 1161.5,321.4 1165.5,328.1 1169.5,334.8 1173.5,341.5 1177.5,345.6 1181.5,349.8 1185.5,350.2 1189.5,351.0 1193.5,350.6 1197.5,345.3 1201.5,341.0 1205.5,335.3 1209.5,326.9 1213.5,318.9 1217.5,310.1 1221.5,299.2 1225.5,290.3 1229.5,282.9 1233.5,277.8 1237.5,271.3 1241.5,266.3 1245.5,262.2 1249.5,259.8 1253.5,260.6 1257.5,259.8 1261.5,257.8 1265.5,258.4 1269.5,259.7 1273.5,259.5 1277.5,260.1 1281.5,256.4 1285.5,251.7 1289.5,247.4 1293.5,245.7 1297.5,244.8 1301.5,241.8 1305.5,237.7" fill="none" stroke="#ff0000" stroke-width="1" /><polyline points="1.5,495.3 5.5,485.4 9.5,479.3 13.5,474.6 17.5,471.3 21.5,465.3 25.5,464.9 29.5,465.2 33.5,464.6 37.5,465.1 41.5,471.5 45.5,471.4 49.5,474.1 53.5,488.5 57.5,500.0 61.5,511.9 65.5,526.8 69.5,543.8 73.5,547.9 77.5,555.5 81.5,559.2 85.5,557.6 89.5,549.8 93.5,546.5 97.5,542.6 101.5,537.4 105.5,534.1 109.5,531.6 113.5,527.3 117.5,521.4 121.5,522.5 125.5,526.3 129.5,527.9 133.5,531.6 137.5,536.1 141.5,534.1 145.5,532.9 149.5,537.5 153.5,538.8 157.5,536.0 161.5,534.9 165.5,534.5 169.5,529.7 173.5,523.2 177.5,520.0 181.5,521.3 185.5,519.8 189.5,520.6 193.5,522.3 197.5,528.1 201.5,529.1 205.5,531.3 209.5,533.1 213.5,535.0 217.5,534.5 221.5,533.2 225.5,529.7 229.5,529.7 233.5,532.7 237.5,534.9 241.5,536.3 245.5,545.3 249.5,545.7 253.5,546.1 257.5,544.2 261.5,541.7 265.5,532.1 269.5,522.8 273.5,517.0 277.5,512.0 281.5,509.4 285.5,507.8 289.5,513.1 293.5,510.5 297.5,510.9 301.5,511.5 305.5,512.0 309.5,474.9 313.5,444.0 317.5,410.2 321.5,374.3 325.5,333.3 329.5,326.9 333.5,319.3 337.5,313.5 341.5,310.1 345.5,313.1 349.5,318.7 353.5,324.0 357.5,329.3 361.5,332.6 365.5,331.2 369.5,329.3 373.5,325.4 377.5,320.7 381.5,318.7 385.5,320.3 389.5,319.8 393.5,321.8 397.5,319.6 401.5,316.3 405.5,313.5 409.5,314.1 413.5,312.5 417.5,314.5 421.5,316.0 425.5,317.2 429.5,316.0 433.5,321.2 437.5,326.9 441.5,342.5 445.5,355.3 449.5,368.7 453.5,375.0 457.5,380.1 461.5,375.5 465.5,374.4 469.5,372.9 473.5,373.5 477.5,376.4 481.5,375.8 485.5,374.1 489.5,373.3 493.5,367.8 497.5,361.5 501.5,361.4 505.5,359.6 509.5,360.5 513.5,365.6 517.5,368.4 521.5,369.2 525.5,373.0 529.5,371.4 533.5,371.0 537.5,370.3 541.5,369.9 545.5,368.4 549.5,367.7 553.5,365.4 557.5,367.8 561.5,370.3 565.5,370.1 569.5,370.3 573.5,368.9 577.5,365.5 581.5,363.1 585.5,358.7 589.5,341.2 593.5,324.1 597.5,283.4 601.5,248.9 605.5,212.6 609.5,193.4 613.5,169.3 617.5,169.0 621.5,160.3 625.5,174.7 629.5,177.5 633.5,187.6 637.5,197.0 641.5,207.7 645.5,198.3 649.5,194.3 653.5,190.7 657.5,182.2 661.5,165.4 665.5,150.7 669.5,130.9 673.5,111.2 677.5,95.9 681.5,92.3 685.5,87.3 689.5,88.8 693.5,84.0 697.5,81.5 701.5,81.6 705.5,85.8 709.5,96.1 713.5,113.2 717.5,125.7 721.5,132.9 725.5,138.3 729.5,147.8 733.5,162.1 737.5,177.1 741.5,186.4 745.5,191.5 749.5,188.2 753.5,174.7 757.5,166.1 761.5,155.8 765.5,149.8 769.5,143.2 773.5,136.2 777.5,127.6 781.5,123.6 785.5,117.5 789.5,111.9 793.5,108.8 797.5,105.1 801.5,106.4 805.5,113.1 809.5,120.1 813.5,123.7 817.5,122.4 821.5,120.3 825.5,123.2 829.5,128.5 833.5,139.6 837.5,156.6 841.5,168.0 845.5,168.1 849.5,168.1 853.5,167.4 857.5,166.6 861.5,169.1 865.5,174.0 869.5,177.3 873.5,179.1 877.5,182.2 881.5,186.0 885.5,188.2 889.5,188.3 893.5,191.1 897.5,193.7 901.5,196.7 905.5,200.8 909.5,207.9 913.5,218.6 917.5,227.8 921.5,240.1 925.5,249.7 929.5,257.3 933.5,255.4 937.5,252.8 941.5,242.5 945.5,235.9 949.5,233.6 953.5,235.2 957.5,232.1 961.5,231.3 965.5,229.2 969.5,222.9 973.5,214.2 977.5,210.8 981.5,211.0 985.5,214.9 989.5,217.8 993.5,220.6 997.5,223.5 1001.5,222.9 1005.5,217.7 1009.5,206.4 1013.5,203.3 1017.5,200.7 1021.5,201.1 1025.5,205.0 1029.5,213.0 1033.5,216.9 1037.5,218.8 1041.5,229.3 1045.5,231.4 1049.5,238.1 1053.5,245.9 1057.5,253.7 1061.5,249.5 1065.5,252.7 1069.5,253.2 1073.5,251.2 1077.5,248.1 1081.5,246.8 1085.5,245.9 1089.5,247.8 1093.5,249.2 1097.5,252.7 1101.5,258.5 1105.5,266.2 1109.5,272.6 1113.5,279.5 1117.5,285.1 1121.5,287.7 1125.5,286.3 1129.5,289.2 1133.5,292.3 1137.5,299.5 1141.5,309.7 1145.5,321.6 1149.5,332.9 1153.5,344.7 1157.5,352.1 1161.5,359.7 1165.5,369.0 1169.5,373.3 1173.5,376.5 1177.5,373.3 1181.5,365.9 1185.5,351.0 1189.5,337.7 1193.5,324.7 1197.5,308.9 1201.5,296.8 1205.5,291.3 1209.5,277.3 1213.5,263.4 1217.5,260.9 1221.5,252.0 1225.5,247.3 1229.5,253.1 1233.5,258.4 1237.5,257.2 1241.5,258.7 1245.5,259.2 1249.5,260.1 1253.5,260.7 1257.5,264.8 1261.5,267.6 1265.5,266.5 1269.5,263.2 1273.5,257.7 1277.5,252.8 1281.5,243.3 1285.5,234.5 1289.5,223.9 1293.5,218.7 1297.5,215.8 1301.5,218.2 1305.5,220.9" fill="none" stroke="#ffa500" stroke-width="1" /></g><path d="M1308 26H1317L1312.5 31Z" fill="#c0c0c0" shape-rendering="auto"/><rect x="5" y="44" width="1636" height="2" fill="#ff0000"/><rect x="5" y="146" width="1636" height="2" fill="#ff0000"/><rect x="5" y="246" width="1636" height="2" fill="#00ff00"/><rect x="5" y="364" width="1636" height="2" fill="#0000ff"/><rect x="5" y="485" width="1636" height="2" fill="#0000ff"/><g clip-path="url(#crsi)"><path d="M6 626.5H1641M6 667.5H1641" stroke="#c0c0c0" stroke-width="1" stroke-dasharray="3,3" fill="none"/><polyline points="1.5,648.4 5.5,649.7 9.5,648.4 13.5,647.4 17.5,647.0 21.5,642.3 25.5,649.5 29.5,649.0 33.5,646.5 37.5,647.8 41.5,651.0 45.5,649.1 49.5,652.7 53.5,663.5 57.5,660.2 61.5,662.7 65.5,664.3 69.5,668.1 73.5,662.8 77.5,664.3 81.5,662.0 85.5,656.0 89.5,653.5 93.5,655.2 97.5,656.5 101.5,652.2 105.5,649.4 109.5,648.0 113.5,647.4 117.5,646.4 121.5,654.0 125.5,655.4 129.5,649.5 133.5,652.3 137.5,652.7 141.5,648.9 145.5,651.8 149.5,656.4 153.5,653.0 157.5,645.8 161.5,645.4 165.5,649.7 169.5,646.9 173.5,641.0 177.5,640.3 181.5,648.5 185.5,647.7 189.5,649.3 193.5,644.4 197.5,651.0 201.5,650.1 205.5,651.3 209.5,652.3 213.5,646.8 217.5,649.4 221.5,646.7 225.5,643.5 229.5,651.7 233.5,652.6 237.5,653.6 241.5,648.5 245.5,659.3 249.5,649.7 253.5,650.5 257.5,647.3 261.5,642.6 265.5,640.9 269.5,634.6 273.5,642.3 277.5,641.0 281.5,640.4 285.5,640.4 289.5,645.8 293.5,639.2 297.5,643.3 301.5,643.1 305.5,642.9 309.5,614.9 313.5,618.2 317.5,617.8 321.5,616.9 325.5,614.8 329.5,614.6 333.5,616.6 337.5,618.4 341.5,618.8 345.5,621.0 349.5,625.1 353.5,626.8 357.5,628.8 361.5,627.0 365.5,624.0 369.5,627.4 373.5,626.2 377.5,626.8 381.5,628.8 385.5,629.1 389.5,628.5 393.5,631.8 397.5,626.8 401.5,626.5 405.5,628.2 409.5,636.0 413.5,634.5 417.5,634.0 421.5,632.7 425.5,633.7 429.5,635.1 433.5,649.3 437.5,649.6 441.5,664.3 445.5,658.5 449.5,660.2 453.5,656.5 457.5,654.2 461.5,653.2 465.5,654.8 469.5,656.1 473.5,656.9 477.5,659.1 481.5,649.2 485.5,648.8 489.5,652.3 493.5,643.1 497.5,644.1 501.5,648.8 505.5,644.9 509.5,653.3 513.5,653.3 517.5,648.9 521.5,649.5 525.5,651.7 529.5,649.4 533.5,651.8 537.5,646.5 541.5,647.6 545.5,647.6 549.5,647.4 553.5,645.9 557.5,652.9 561.5,654.0 565.5,646.3 569.5,647.0 573.5,641.5 577.5,643.4 581.5,647.4 585.5,636.7 589.5,620.7 593.5,619.4 597.5,609.1 601.5,621.1 605.5,618.4 609.5,624.0 613.5,621.0 617.5,622.0 621.5,621.7 625.5,640.6 629.5,635.9 633.5,636.6 637.5,636.6 641.5,637.3 645.5,634.7 649.5,633.4 653.5,634.9 657.5,631.2 661.5,626.4 665.5,625.6 669.5,622.0 673.5,623.8 677.5,623.4 681.5,629.4 685.5,627.6 689.5,627.2 693.5,624.0 697.5,626.5 701.5,636.1 705.5,637.9 709.5,644.5 713.5,646.5 717.5,643.3 721.5,645.1 725.5,644.6 729.5,655.0 733.5,660.4 737.5,657.4 741.5,652.4 745.5,647.5 749.5,648.8 753.5,645.0 757.5,647.7 761.5,641.7 765.5,641.5 769.5,642.2 773.5,638.3 777.5,639.5 781.5,638.1 785.5,635.8 789.5,637.3 793.5,635.9 797.5,636.2 801.5,642.4 805.5,647.3 809.5,649.1 813.5,642.4 817.5,636.9 821.5,641.2 825.5,651.7 829.5,655.4 833.5,656.6 837.5,657.7 841.5,653.4 845.5,649.3 849.5,653.3 853.5,654.0 857.5,655.1 861.5,655.7 865.5,654.6 869.5,657.1 873.5,655.2 877.5,658.4 881.5,659.9 885.5,655.2 889.5,654.8 893.5,657.4 897.5,660.6 901.5,662.6 905.5,660.0 909.5,663.7 913.5,669.6 917.5,670.3 921.5,674.3 925.5,665.6 929.5,666.3 933.5,657.5 937.5,657.5 941.5,651.6 945.5,651.6 949.5,658.7 953.5,658.1 957.5,649.3 961.5,647.9 965.5,645.7 969.5,647.0 973.5,642.5 977.5,643.7 981.5,648.8 985.5,653.0 989.5,652.5 993.5,646.9 997.5,648.4 1001.5,646.6 1005.5,642.5 1009.5,632.8 1013.5,643.4 1017.5,645.5 1021.5,648.9 1025.5,651.1 1029.5,647.0 1033.5,649.3 1037.5,648.2 1041.5,662.4 1045.5,651.1 1049.5,653.8 1053.5,656.4 1057.5,655.6 1061.5,653.3 1065.5,653.9 1069.5,653.1 1073.5,652.9 1077.5,650.0 1081.5,650.6 1085.5,652.1 1089.5,656.0 1093.5,654.6 1097.5,655.5 1101.5,660.1 1105.5,663.9 1109.5,665.4 1113.5,664.8 1117.5,662.3 1121.5,662.0 1125.5,657.7 1129.5,666.3 1133.5,666.3 1137.5,670.4 1141.5,673.6 1145.5,673.8 1149.5,678.0 1153.5,678.4 1157.5,674.7 1161.5,677.4 1165.5,679.0 1169.5,678.2 1173.5,676.4 1177.5,655.8 1181.5,653.7 1185.5,643.9 1189.5,646.4 1193.5,645.8 1197.5,632.0 1201.5,636.6 1205.5,638.4 1209.5,631.1 1213.5,630.8 1217.5,632.9 1221.5,629.1 1225.5,638.0 1229.5,643.5 1233.5,642.3 1237.5,636.3 1241.5,635.2 1245.5,641.7 1249.5,647.1 1253.5,645.6 1257.5,643.2 1261.5,640.3 1265.5,640.8 1269.5,643.7 1273.5,639.2 1277.5,637.7 1281.5,630.2 1285.5,632.0 1289.5,632.1 1293.5,635.9 1297.5,637.9 1301.5,635.8 1305.5,638.2" fill="none" stroke="#1e90ff" stroke-width="1" /></g><g clip-path="url(#cmacd)"><rect x="5" y="764" width="1" height="20" fill="#c0c0c0"/><rect x="9" y="764" width="1" height="17" fill="#c0c0c0"/><rect x="13" y="764" width="1" height="15" fill="#c0c0c0"/><rect x="17" y="764" width="1" height="12" fill="#c0c0c0"/><rect x="21" y="764" width="1" height="9" fill="#c0c0c0"/><rect x="25" y="764" width="1" height="9" fill="#c0c0c0"/><rect x="29" y="764" width="1" height="8" fill="#c0c0c0"/><rect x="33" y="764" width="1" height="7" fill="#c0c0c0"/><rect x="37" y="764" width="1" height="6" fill="#c0c0c0"/><rect x="41" y="764" width="1" height="6" fill="#c0c0c0"/><rect x="45" y="764" width="1" height="6" fill="#c0c0c0"/><rect x="49" y="764" width="1" height="7" fill="#c0c0c0"/><rect x="53" y="764" width="1" height="11" fill="#c0c0c0"/><rect x="57" y="764" width="1" height="14" fill="#c0c0c0"/><rect x="61" y="764" width="1" height="17" fill="#c0c0c0"/><rect x="65" y="764" width="1" height="19" fill="#c0c0c0"/><rect x="69" y="764" width="1" height="23" fill="#c0c0c0"/><rect x="73" y="764" width="1" height="25" fill="#c0c0c0"/><rect x="77" y="764" width="1" height="26" fill="#c0c0c0"/><rect x="81" y="764" width="1" height="27" fill="#c0c0c0"/><rect x="85" y="764" width="1" height="26" fill="#c0c0c0"/><rect x="89" y="764" width="1" height="24" fill="#c0c0c0"/><rect x="93" y="764" width="1" height="22" fill="#c0c0c0"/><rect x="97" y="764" width="1" height="22" fill="#c0c0c0"/><rect x="101" y="764" width="1" height="20" fill="#c0c0c0"/><rect x="105" y="764" width="1" height="17" fill="#c0c0c0"/><rect x="109" y="764" width="1" height="15" fill="#c0c0c0"/><rect x="113" y="764" width="1" height="13" fill="#c0c0c0"/><rect x="117" y="764" width="1" height="11" fill="#c0c0c0"/><rect x="121" y="764" width="1" height="11" fill="#c0c0c0"/><rect x="125" y="764" width="1" height="11" fill="#c0c0c0"/><rect x="129" y="764" width="1" height="10" fill="#c0c0c0"/><rect x="133" y="764" width="1" height="10" fill="#c0c0c0"/><rect x="137" y="764" width="1" height="10" fill="#c0c0c0"/><rect x="141" y="764" width="1" height="9" fill="#c0c0c0"/><rect x="145" y="764" width="1" height="9" fill="#c0c0c0"/><rect x="149" y="764" width="1" height="10" fill="#c0c0c0"/><rect x="153" y="764" width="1" height="10" fill="#c0c0c0"/><rect x="157" y="764" width="1" height="8" fill="#c0c0c0"/><rect x="161" y="764" width="1" height="6" fill="#c0c0c0"/><rect x="165" y="764" width="1" height="6" fill="#c0c0c0"/><rect x="169" y="764" width="1" height="5" fill="#c0c0c0"/><rect x="173" y="764" width="1" height="3" fill="#c0c0c0"/><rect x="177" y="764" width="1" height="1" fill="#c0c0c0"/><rect x="181" y="764" width="1" height="2" fill="#c0c0c0"/><rect x="185" y="764" width="1" height="2" fill="#c0c0c0"/><rect x="189" y="764" width="1" height="2" fill="#c0c0c0"/><rect x="193" y="764" width="1" height="1" fill="#c0c0c0"/><rect x="197" y="764" width="1" height="2" fill="#c0c0c0"/><rect x="201" y="764" width="1" height="3" fill="#c0c0c0"/><rect x="205" y="764" width="1" height="3" fill="#c0c0c0"/><rect x="209" y="764" width="1" height="4" fill="#c0c0c0"/><rect x="213" y="764" width="1" height="3" fill="#c0c0c0"/><rect x="217" y="764" width="1" height="3" fill="#c0c0c0"/><rect x="221" y="764" width="1" height="3" fill="#c0c0c0"/><rect x="225" y="764" width="1" height="2" fill="#c0c0c0"/><rect x="229" y="764" width="1" height="3" fill="#c0c0c0"/><rect x="233" y="764" width="1" height="4" fill="#c0c0c0"/><rect x="237" y="764" width="1" height="4" fill="#c0c0c0"/><rect x="241" y="764" width="1" height="4" fill="#c0c0c0"/><rect x="245" y="764" width="1" height="6" fill="#c0c0c0"/><rect x="249" y="764" width="1" height="6" fill="#c0c0c0"/><rect x="253" y="764" width="1" height="6" fill="#c0c0c0"/><rect x="257" y="764" width="1" height="5" fill="#c0c0c0"/><rect x="261" y="764" width="1" height="4" fill="#c0c0c0"/><rect x="265" y="764" width="1" height="2" fill="#c0c0c0"/><rect x="269" y="762" width="1" height="3" fill="#c0c0c0"/><rect x="273" y="761" width="1" height="4" fill="#c0c0c0"/><rect x="277" y="760" width="1" height="5" fill="#c0c0c0"/><rect x="281" y="759" width="1" height="6" fill="#c0c0c0"/><rect x="285" y="758" width="1" height="7" fill="#c0c0c0"/><rect x="289" y="759" width="1" height="6" fill="#c0c0c0"/><rect x="293" y="758" width="1" height="7" fill="#c0c0c0"/><rect x="297" y="758" width="1" height="7" fill="#c0c0c0"/><rect x="301" y="758" width="1" height="7" fill="#c0c0c0"/><rect x="305" y="758" width="1" height="7" fill="#c0c0c0"/><rect x="309" y="744" width="1" height="21" fill="#c0c0c0"/><rect x="313" y="735" width="1" height="30" fill="#c0c0c0"/><rect x="317" y="727" width="1" height="38" fill="#c0c0c0"/><rect x="321" y="721" width="1" height="44" fill="#c0c0c0"/><rect x="325" y="714" width="1" height="51" fill="#c0c0c0"/><rect x="329" y="709" width="1" height="56" fill="#c0c0c0"/><rect x="333" y="707" width="1" height="58" fill="#c0c0c0"/><rect x="337" y="705" width="1" height="60" fill="#c0c0c0"/><rect x="341" y="705" width="1" height="60" fill="#c0c0c0"/><rect x="345" y="706" width="1" height="59" fill="#c0c0c0"/><rect x="349" y="709" width="1" height="56" fill="#c0c0c0"/><rect x="353" y="712" width="1" height="53" fill="#c0c0c0"/><rect x="357" y="715" width="1" height="50" fill="#c0c0c0"/><rect x="361" y="717" width="1" height="48" fill="#c0c0c0"/><rect x="365" y="718" width="1" height="47" fill="#c0c0c0"/><rect x="369" y="720" width="1" height="45" fill="#c0c0c0"/><rect x="373" y="721" width="1" height="44" fill="#c0c0c0"/><rect x="377" y="723" width="1" height="42" fill="#c0c0c0"/><rect x="381" y="725" width="1" height="40" fill="#c0c0c0"/><rect x="385" y="728" width="1" height="37" fill="#c0c0c0"/><rect x="389" y="730" width="1" height="35" fill="#c0c0c0"/><rect x="393" y="732" width="1" height="33" fill="#c0c0c0"/><rect x="397" y="733" width="1" height="32" fill="#c0c0c0"/><rect x="401" y="733" width="1" height="32" fill="#c0c0c0"/><rect x="405" y="735" width="1" height="30" fill="#c0c0c0"/><rect x="409" y="737" width="1" height="28" fill="#c0c0c0"/><rect x="413" y="739" width="1" height="26" fill="#c0c0c0"/><rect x="417" y="741" width="1" height="24" fill="#c0c0c0"/><rect x="421" y="742" width="1" height="23" fill="#c0c0c0"/><rect x="425" y="743" width="1" height="22" fill="#c0c0c0"/><rect x="429" y="745" width="1" height="20" fill="#c0c0c0"/><rect x="433" y="748" width="1" height="17" fill="#c0c0c0"/><rect x="437" y="751" width="1" height="14" fill="#c0c0c0"/><rect x="441" y="757" width="1" height="8" fill="#c0c0c0"/><rect x="445" y="761" width="1" height="4" fill="#c0c0c0"/><rect x="449" y="764" width="1" height="2" fill="#c0c0c0"/><rect x="453" y="764" width="1" height="4" fill="#c0c0c0"/><rect x="457" y="764" width="1" height="5" fill="#c0c0c0"/><rect x="461" y="764" width="1" height="6" fill="#c0c0c0"/><rect x="465" y="764" width="1" height="7" fill="#c0c0c0"/><rect x="469" y="764" width="1" height="8" fill="#c0c0c0"/><rect x="473" y="764" width="1" height="9" fill="#c0c0c0"/><rect x="477" y="764" width="1" height="10" fill="#c0c0c0"/><rect x="481" y="764" width="1" height="9" fill="#c0c0c0"/><rect x="485" y="764" width="1" height="8" fill="#c0c0c0"/><rect x="489" y="764" width="1" height="8" fill="#c0c0c0"/><rect x="493" y="764" width="1" height="6" fill="#c0c0c0"/><rect x="497" y="764" width="1" height="5" fill="#c0c0c0"/><rect x="501" y="764" width="1" height="4" fill="#c0c0c0"/><rect x="505" y="764" width="1" height="4" fill="#c0c0c0"/><rect x="509" y="764" width="1" height="5" fill="#c0c0c0"/><rect x="513" y="764" width="1" height="5" fill="#c0c0c0"/><rect x="517" y="764" width="1" height="5" fill="#c0c0c0"/><rect x="521" y="764" width="1" height="5" fill="#c0c0c0"/><rect x="525" y="764" width="1" height="5" fill="#c0c0c0"/><rect x="529" y="764" width="1" height="5" fill="#c0c0c0"/><rect x="533" y="764" width="1" height="5" fill="#c0c0c0"/><rect x="537" y="764" width="1" height="4" fill="#c0c0c0"/><rect x="541" y="764" width="1" height="4" fill="#c0c0c0"/><rect x="545" y="764" width="1" height="4" fill="#c0c0c0"/><rect x="549" y="764" width="1" height="3" fill="#c0c0c0"/><rect x="553" y="764" width="1" height="3" fill="#c0c0c0"/><rect x="557" y="764" width="1" height="3" fill="#c0c0c0"/><rect x="561" y="764" width="1" height="4" fill="#c0c0c0"/><rect x="565" y="764" width="1" height="3" fill="#c0c0c0"/><rect x="569" y="764" width="1" height="3" fill="#c0c0c0"/><rect x="573" y="764" width="1" height="2" fill="#c0c0c0"/><rect x="577" y="764" width="1" height="1" fill="#c0c0c0"/><rect x="581" y="764" width="1" height="1" fill="#c0c0c0"/><rect x="585" y="763" width="1" height="2" fill="#c0c0c0"/><rect x="589" y="756" width="1" height="9" fill="#c0c0c0"/><rect x="593" y="750" width="1" height="15" fill="#c0c0c0"/><rect x="597" y="737" width="1" height="28" fill="#c0c0c0"/><rect x="601" y="730" width="1" height="35" fill="#c0c0c0"/><rect x="605" y="722" width="1" height="43" fill="#c0c0c0"/><rect x="609" y="718" width="1" height="47" fill="#c0c0c0"/><rect x="613" y="713" width="1" height="52" fill="#c0c0c0"/><rect x="617" y="709" width="1" height="56" fill="#c0c0c0"/><rect x="621" y="707" width="1" height="58" fill="#c0c0c0"/><rect x="625" y="713" width="1" height="52" fill="#c0c0c0"/><rect x="629" y="715" width="1" height="50" fill="#c0c0c0"/><rect x="633" y="717" width="1" height="48" fill="#c0c0c0"/><rect x="637" y="720" width="1" height="45" fill="#c0c0c0"/><rect x="641" y="723" width="1" height="42" fill="#c0c0c0"/><rect x="645" y="724" width="1" height="41" fill="#c0c0c0"/><rect x="649" y="724" width="1" height="41" fill="#c0c0c0"/><rect x="653" y="726" width="1" height="39" fill="#c0c0c0"/><rect x="657" y="725" width="1" height="40" fill="#c0c0c0"/><rect x="661" y="722" width="1" height="43" fill="#c0c0c0"/><rect x="665" y="720" width="1" height="45" fill="#c0c0c0"/><rect x="669" y="716" width="1" height="49" fill="#c0c0c0"/><rect x="673" y="714" width="1" height="51" fill="#c0c0c0"/><rect x="677" y="712" width="1" height="53" fill="#c0c0c0"/><rect x="681" y="713" width="1" height="52" fill="#c0c0c0"/><rect x="685" y="714" width="1" height="51" fill="#c0c0c0"/><rect x="689" y="714" width="1" height="51" fill="#c0c0c0"/><rect x="693" y="713" width="1" height="52" fill="#c0c0c0"/><rect x="697" y="714" width="1" height="51" fill="#c0c0c0"/><rect x="701" y="718" width="1" height="47" fill="#c0c0c0"/><rect x="705" y="722" width="1" height="43" fill="#c0c0c0"/><rect x="709" y="727" width="1" height="38" fill="#c0c0c0"/><rect x="713" y="733" width="1" height="32" fill="#c0c0c0"/><rect x="717" y="737" width="1" height="28" fill="#c0c0c0"/><rect x="721" y="740" width="1" height="25" fill="#c0c0c0"/><rect x="725" y="743" width="1" height="22" fill="#c0c0c0"/><rect x="729" y="750" width="1" height="15" fill="#c0c0c0"/><rect x="733" y="758" width="1" height="7" fill="#c0c0c0"/><rect x="737" y="763" width="1" height="2" fill="#c0c0c0"/><rect x="741" y="764" width="1" height="2" fill="#c0c0c0"/><rect x="745" y="764" width="1" height="3" fill="#c0c0c0"/><rect x="749" y="764" width="1" height="3" fill="#c0c0c0"/><rect x="753" y="764" width="1" height="2" fill="#c0c0c0"/><rect x="757" y="764" width="1" height="2" fill="#c0c0c0"/><rect x="761" y="763" width="1" height="2" fill="#c0c0c0"/><rect x="765" y="761" width="1" height="4" fill="#c0c0c0"/><rect x="769" y="760" width="1" height="5" fill="#c0c0c0"/><rect x="773" y="758" width="1" height="7" fill="#c0c0c0"/><rect x="777" y="756" width="1" height="9" fill="#c0c0c0"/><rect x="781" y="755" width="1" height="10" fill="#c0c0c0"/><rect x="785" y="752" width="1" height="13" fill="#c0c0c0"/><rect x="789" y="751" width="1" height="14" fill="#c0c0c0"/><rect x="793" y="750" width="1" height="15" fill="#c0c0c0"/><rect x="797" y="749" width="1" height="16" fill="#c0c0c0"/><rect x="801" y="750" width="1" height="15" fill="#c0c0c0"/><rect x="805" y="753" width="1" height="12" fill="#c0c0c0"/><rect x="809" y="755" width="1" height="10" fill="#c0c0c0"/><rect x="813" y="755" width="1" height="10" fill="#c0c0c0"/><rect x="817" y="754" width="1" height="11" fill="#c0c0c0"/><rect x="821" y="753" width="1" height="12" fill="#c0c0c0"/><rect x="825" y="757" width="1" height="8" fill="#c0c0c0"/><rect x="829" y="761" width="1" height="4" fill="#c0c0c0"/><rect x="833" y="764" width="1" height="2" fill="#c0c0c0"/><rect x="837" y="764" width="1" height="5" fill="#c0c0c0"/><rect x="841" y="764" width="1" height="7" fill="#c0c0c0"/><rect x="845" y="764" width="1" height="6" fill="#c0c0c0"/><rect x="849" y="764" width="1" height="8" fill="#c0c0c0"/><rect x="853" y="764" width="1" height="9" fill="#c0c0c0"/><rect x="857" y="764" width="1" height="10" fill="#c0c0c0"/><rect x="861" y="764" width="1" height="11" fill="#c0c0c0"/><rect x="865" y="764" width="1" height="12" fill="#c0c0c0"/><rect x="869" y="764" width="1" height="12" fill="#c0c0c0"/><rect x="873" y="764" width="1" height="13" fill="#c0c0c0"/><rect x="877" y="764" width="1" height="14" fill="#c0c0c0"/><rect x="881" y="764" width="1" height="15" fill="#c0c0c0"/><rect x="885" y="764" width="1" height="15" fill="#c0c0c0"/><rect x="889" y="764" width="1" height="14" fill="#c0c0c0"/><rect x="893" y="764" width="1" height="14" fill="#c0c0c0"/><rect x="897" y="764" width="1" height="15" fill="#c0c0c0"/><rect x="901" y="764" width="1" height="17" fill="#c0c0c0"/><rect x="905" y="764" width="1" height="17" fill="#c0c0c0"/><rect x="909" y="764" width="1" height="18" fill="#c0c0c0"/><rect x="913" y="764" width="1" height="21" fill="#c0c0c0"/><rect x="917" y="764" width="1" height="23" fill="#c0c0c0"/><rect x="921" y="764" width="1" height="26" fill="#c0c0c0"/><rect x="925" y="764" width="1" height="27" fill="#c0c0c0"/><rect x="929" y="764" width="1" height="28" fill="#c0c0c0"/><rect x="933" y="764" width="1" height="26" fill="#c0c0c0"/><rect x="937" y="764" width="1" height="25" fill="#c0c0c0"/><rect x="941" y="764" width="1" height="22" fill="#c0c0c0"/><rect x="945" y="764" width="1" height="20" fill="#c0c0c0"/><rect x="949" y="764" width="1" height="20" fill="#c0c0c0"/><rect x="953" y="764" width="1" height="20" fill="#c0c0c0"/><rect x="957" y="764" width="1" height="17" fill="#c0c0c0"/><rect x="961" y="764" width="1" height="15" fill="#c0c0c0"/><rect x="965" y="764" width="1" height="12" fill="#c0c0c0"/><rect x="969" y="764" width="1" height="11" fill="#c0c0c0"/><rect x="973" y="764" width="1" height="8" fill="#c0c0c0"/><rect x="977" y="764" width="1" height="6" fill="#c0c0c0"/><rect x="981" y="764" width="1" height="6" fill="#c0c0c0"/><rect x="985" y="764" width="1" height="6" fill="#c0c0c0"/><rect x="989" y="764" width="1" height="7" fill="#c0c0c0"/><rect x="993" y="764" width="1" height="6" fill="#c0c0c0"/><rect x="997" y="764" width="1" height="5" fill="#c0c0c0"/><rect x="1001" y="764" width="1" height="4" fill="#c0c0c0"/><rect x="1005" y="764" width="1" height="3" fill="#c0c0c0"/><rect x="1009" y="762" width="1" height="3" fill="#c0c0c0"/><rect x="1013" y="762" width="1" height="3" fill="#c0c0c0"/><rect x="1017" y="762" width="1" height="3" fill="#c0c0c0"/><rect x="1021" y="762" width="1" height="3" fill="#c0c0c0"/><rect x="1025" y="764" width="1" height="1" fill="#c0c0c0"/><rect x="1029" y="764" width="1" height="1" fill="#c0c0c0"/><rect x="1033" y="764" width="1" height="1" fill="#c0c0c0"/><rect x="1037" y="764" width="1" height="2" fill="#c0c0c0"/><rect x="1041" y="764" width="1" height="6" fill="#c0c0c0"/><rect x="1045" y="764" width="1" height="7" fill="#c0c0c0"/><rect x="1049" y="764" width="1" height="8" fill="#c0c0c0"/><rect x="1053" y="764" width="1" height="10" fill="#c0c0c0"/><rect x="1057" y="764" width="1" height="11" fill="#c0c0c0"/><rect x="1061" y="764" width="1" height="11" fill="#c0c0c0"/><rect x="1065" y="764" width="1" height="12" fill="#c0c0c0"/><rect x="1069" y="764" width="1" height="11" fill="#c0c0c0"/><rect x="1073" y="764" width="1" height="11" fill="#c0c0c0"/><rect x="1077" y="764" width="1" height="10" fill="#c0c0c0"/><rect x="1081" y="764" width="1" height="10" fill="#c0c0c0"/><rect x="1085" y="764" width="1" height="9" fill="#c0c0c0"/><rect x="1089" y="764" width="1" height="10" fill="#c0c0c0"/><rect x="1093" y="764" width="1" height="10" fill="#c0c0c0"/><rect x="1097" y="764" width="1" height="10" fill="#c0c0c0"/><rect x="1101" y="764" width="1" height="11" fill="#c0c0c0"/><rect x="1105" y="764" width="1" height="13" fill="#c0c0c0"/><rect x="1109" y="764" width="1" height="15" fill="#c0c0c0"/><rect x="1113" y="764" width="1" height="16" fill="#c0c0c0"/><rect x="1117" y="764" width="1" height="17" fill="#c0c0c0"/><rect x="1121" y="764" width="1" height="17" fill="#c0c0c0"/><rect x="1125" y="764" width="1" height="16" fill="#c0c0c0"/><rect x="1129" y="764" width="1" height="18" fill="#c0c0c0"/><rect x="1133" y="764" width="1" height="18" fill="#c0c0c0"/><rect x="1137" y="764" width="1" height="20" fill="#c0c0c0"/><rect x="1141" y="764" width="1" height="23" fill="#c0c0c0"/><rect x="1145" y="764" width="1" height="25" fill="#c0c0c0"/><rect x="1149" y="764" width="1" height="28" fill="#c0c0c0"/><rect x="1153" y="764" width="1" height="30" fill="#c0c0c0"/><rect x="1157" y="764" width="1" height="31" fill="#c0c0c0"/><rect x="1161" y="764" width="1" height="32" fill="#c0c0c0"/><rect x="1165" y="764" width="1" height="34" fill="#c0c0c0"/><rect x="1169" y="764" width="1" height="35" fill="#c0c0c0"/><rect x="1173" y="764" width="1" height="35" fill="#c0c0c0"/><rect x="1177" y="764" width="1" height="32" fill="#c0c0c0"/><rect x="1181" y="764" width="1" height="29" fill="#c0c0c0"/><rect x="1185" y="764" width="1" height="23" fill="#c0c0c0"/><rect x="1189" y="764" width="1" height="20" fill="#c0c0c0"/><rect x="1193" y="764" width="1" height="16" fill="#c0c0c0"/><rect x="1197" y="764" width="1" height="10" fill="#c0c0c0"/><rect x="1201" y="764" width="1" height="5" fill="#c0c0c0"/><rect x="1205" y="764" width="1" height="2" fill="#c0c0c0"/><rect x="1209" y="760" width="1" height="5" fill="#c0c0c0"/><rect x="1213" y="756" width="1" height="9" fill="#c0c0c0"/><rect x="1217" y="753" width="1" height="12" fill="#c0c0c0"/><rect x="1221" y="749" width="1" height="16" fill="#c0c0c0"/><rect x="1225" y="749" width="1" height="16" fill="#c0c0c0"/><rect x="1229" y="750" width="1" height="15" fill="#c0c0c0"/><rect x="1233" y="751" width="1" height="14" fill="#c0c0c0"/><rect x="1237" y="749" width="1" height="16" fill="#c0c0c0"/><rect x="1241" y="748" width="1" height="17" fill="#c0c0c0"/><rect x="1245" y="749" width="1" height="16" fill="#c0c0c0"/><rect x="1249" y="751" width="1" height="14" fill="#c0c0c0"/><rect x="1253" y="753" width="1" height="12" fill="#c0c0c0"/><rect x="1257" y="753" width="1" height="12" fill="#c0c0c0"/><rect x="1261" y="753" width="1" height="12" fill="#c0c0c0"/><rect x="1265" y="753" width="1" height="12" fill="#c0c0c0"/><rect x="1269" y="754" width="1" height="11" fill="#c0c0c0"/><rect x="1273" y="753" width="1" height="12" fill="#c0c0c0"/><rect x="1277" y="752" width="1" height="13" fill="#c0c0c0"/><rect x="1281" y="749" width="1" height="16" fill="#c0c0c0"/><rect x="1285" y="747" width="1" height="18" fill="#c0c0c0"/><rect x="1289" y="746" width="1" height="19" fill="#c0c0c0"/><rect x="1293" y="746" width="1" height="19" fill="#c0c0c0"/><rect x="1297" y="746" width="1" height="19" fill="#c0c0c0"/><rect x="1301" y="746" width="1" height="19" fill="#c0c0c0"/><rect x="1305" y="747" width="1" height="18" fill="#c0c0c0"/><polyline points="1.5,790.0 5.5,789.5 9.5,788.5 13.5,787.1 17.5,785.2 21.5,782.8 25.5,780.4 29.5,778.3 33.5,776.2 37.5,774.4 41.5,772.9 45.5,771.7 49.5,770.8 53.5,770.6 57.5,771.1 61.5,772.0 65.5,773.3 69.5,775.1 73.5,777.2 77.5,779.5 81.5,781.8 85.5,783.9 89.5,785.3 93.5,786.3 97.5,786.8 101.5,786.8 105.5,786.2 109.5,785.1 113.5,783.6 117.5,781.8 121.5,780.2 125.5,778.8 129.5,777.5 133.5,776.2 137.5,775.1 141.5,774.1 145.5,773.4 149.5,773.1 153.5,772.9 157.5,772.6 161.5,772.0 165.5,771.6 169.5,771.0 173.5,770.3 177.5,769.5 181.5,768.7 185.5,767.8 189.5,767.0 193.5,766.2 197.5,765.8 201.5,765.4 205.5,765.1 209.5,765.2 213.5,765.4 217.5,765.7 221.5,765.8 225.5,765.8 229.5,766.0 233.5,766.1 237.5,766.3 241.5,766.4 245.5,766.7 249.5,767.0 253.5,767.4 257.5,767.6 261.5,767.8 265.5,767.7 269.5,767.2 273.5,766.5 277.5,765.7 281.5,764.5 285.5,763.3 289.5,762.2 293.5,761.0 297.5,760.1 301.5,759.3 305.5,758.9 309.5,757.1 313.5,754.3 317.5,750.7 321.5,746.5 325.5,741.5 329.5,736.1 333.5,730.4 337.5,724.5 341.5,718.6 345.5,714.4 349.5,711.5 353.5,709.8 357.5,709.1 361.5,709.5 365.5,710.4 369.5,711.9 373.5,713.7 377.5,715.7 381.5,717.8 385.5,719.9 389.5,721.9 393.5,723.8 397.5,725.6 401.5,727.3 405.5,728.9 409.5,730.7 413.5,732.4 417.5,734.1 421.5,735.7 425.5,737.2 429.5,738.6 433.5,740.3 437.5,742.3 441.5,744.8 445.5,747.5 449.5,750.4 453.5,753.3 457.5,756.3 461.5,759.1 465.5,761.9 469.5,764.4 473.5,766.7 477.5,768.4 481.5,769.5 485.5,770.2 489.5,770.6 493.5,770.7 497.5,770.5 501.5,770.3 505.5,769.8 509.5,769.4 513.5,768.9 517.5,768.5 521.5,768.1 525.5,767.8 529.5,767.7 533.5,767.8 537.5,767.8 541.5,767.8 545.5,767.7 549.5,767.5 553.5,767.3 557.5,767.1 561.5,767.0 565.5,766.8 569.5,766.6 573.5,766.3 577.5,766.0 581.5,765.7 585.5,765.3 589.5,764.2 593.5,762.4 597.5,759.1 601.5,755.0 605.5,750.0 609.5,744.8 613.5,739.1 617.5,733.0 621.5,726.8 625.5,722.0 629.5,718.1 633.5,716.0 637.5,714.9 641.5,715.0 645.5,715.6 649.5,716.9 653.5,718.8 657.5,720.8 661.5,721.8 665.5,722.4 669.5,722.2 673.5,721.5 677.5,720.4 681.5,719.2 685.5,718.0 689.5,716.8 693.5,715.5 697.5,714.5 701.5,714.3 705.5,714.9 709.5,716.4 713.5,718.7 717.5,721.3 721.5,724.3 725.5,727.5 729.5,731.5 733.5,736.4 737.5,741.4 741.5,746.3 745.5,750.6 749.5,754.2 753.5,757.4 757.5,760.2 761.5,762.4 765.5,763.6 769.5,763.9 773.5,763.3 777.5,762.2 781.5,761.0 785.5,759.5 789.5,758.0 793.5,756.3 797.5,754.8 801.5,753.6 805.5,752.8 809.5,752.5 813.5,752.4 817.5,752.3 821.5,752.4 825.5,753.0 829.5,754.2 833.5,755.9 837.5,757.9 841.5,759.7 845.5,761.3 849.5,763.1 853.5,765.1 857.5,767.3 861.5,769.2 865.5,770.7 869.5,771.9 873.5,772.7 877.5,773.5 881.5,774.4 885.5,775.2 889.5,775.8 893.5,776.3 897.5,776.8 901.5,777.3 905.5,777.8 909.5,778.4 913.5,779.2 917.5,780.1 921.5,781.4 925.5,782.9 929.5,784.4 933.5,785.6 937.5,786.5 941.5,787.2 945.5,787.4 949.5,787.3 953.5,786.9 957.5,785.9 961.5,784.5 965.5,782.8 969.5,781.1 973.5,779.2 977.5,777.4 981.5,775.8 985.5,774.2 989.5,772.8 993.5,771.5 997.5,770.4 1001.5,769.5 1005.5,768.7 1009.5,767.7 1013.5,766.9 1017.5,766.1 1021.5,765.3 1025.5,764.7 1029.5,764.1 1033.5,763.7 1037.5,763.3 1041.5,763.7 1045.5,764.5 1049.5,765.5 1053.5,766.8 1057.5,768.1 1061.5,769.2 1065.5,770.5 1069.5,771.6 1073.5,772.7 1077.5,773.1 1081.5,773.5 1085.5,773.7 1089.5,773.7 1093.5,773.6 1097.5,773.5 1101.5,773.4 1105.5,773.6 1109.5,774.1 1113.5,774.7 1117.5,775.5 1121.5,776.3 1125.5,777.0 1129.5,777.8 1133.5,778.7 1137.5,779.7 1141.5,780.7 1145.5,781.8 1149.5,783.0 1153.5,784.5 1157.5,786.1 1161.5,787.9 1165.5,789.8 1169.5,791.6 1173.5,793.3 1177.5,794.3 1181.5,794.8 1185.5,794.3 1189.5,793.2 1193.5,791.6 1197.5,789.0 1201.5,785.8 1205.5,782.1 1209.5,777.8 1213.5,773.5 1217.5,769.2 1221.5,765.1 1225.5,761.3 1229.5,758.0 1233.5,755.6 1237.5,753.6 1241.5,751.7 1245.5,750.5 1249.5,750.0 1253.5,750.0 1257.5,750.4 1261.5,750.9 1265.5,751.2 1269.5,751.6 1273.5,752.0 1277.5,752.5 1281.5,752.5 1285.5,752.0 1289.5,751.2 1293.5,750.4 1297.5,749.6 1301.5,748.8 1305.5,748.1" fill="none" stroke="#ff0000" stroke-width="1" stroke-dasharray="3,3"/></g><rect x="1642" y="28" width="3" height="1" fill="#000"/><text x="1647" y="32" font-size="9.5" fill="#000" stroke="#000" stroke-width="0.2" text-anchor="start" textLength="33.0" lengthAdjust="spacingAndGlyphs" >7.21925</text><rect x="1642" y="61" width="3" height="1" fill="#000"/><text x="1647" y="65" font-size="9.5" fill="#000" stroke="#000" stroke-width="0.2" text-anchor="start" textLength="33.0" lengthAdjust="spacingAndGlyphs" >7.18600</text><rect x="1642" y="94" width="3" height="1" fill="#000"/><text x="1647" y="98" font-size="9.5" fill="#000" stroke="#000" stroke-width="0.2" text-anchor="start" textLength="33.0" lengthAdjust="spacingAndGlyphs" >7.15370</text><rect x="1642" y="127" width="3" height="1" fill="#000"/><text x="1647" y="131" font-size="9.5" fill="#000" stroke="#000" stroke-width="0.2" text-anchor="start" textLength="33.0" lengthAdjust="spacingAndGlyphs" >7.12045</text><rect x="1642" y="160" width="3" height="1" fill="#000"/><text x="1647" y="164" font-size="9.5" fill="#000" stroke="#000" stroke-width="0.2" text-anchor="start" textLength="33.0" lengthAdjust="spacingAndGlyphs" >7.08720</text><rect x="1642" y="193" width="3" height="1" fill="#000"/><text x="1647" y="197" font-size="9.5" fill="#000" stroke="#000" stroke-width="0.2" text-anchor="start" textLength="33.0" lengthAdjust="spacingAndGlyphs" >7.05395</text><rect x="1642" y="226" width="3" height="1" fill="#000"/><text x="1647" y="230" font-size="9.5" fill="#000" stroke="#000" stroke-width="0.2" text-anchor="start" textLength="33.0" lengthAdjust="spacingAndGlyphs" >7.02070</text><rect x="1642" y="259" width="3" height="1" fill="#000"/><text x="1647" y="263" font-size="9.5" fill="#000" stroke="#000" stroke-width="0.2" text-anchor="start" textLength="33.0" lengthAdjust="spacingAndGlyphs" >6.98840</text><rect x="1642" y="292" width="3" height="1" fill="#000"/><text x="1647" y="296" font-size="9.5" fill="#000" stroke="#000" stroke-width="0.2" text-anchor="start" textLength="33.0" lengthAdjust="spacingAndGlyphs" >6.95515</text><rect x="1642" y="325" width="3" height="1" fill="#000"/><text x="1647" y="329" font-size="9.5" fill="#000" stroke="#000" stroke-width="0.2" text-anchor="start" textLength="33.0" lengthAdjust="spacingAndGlyphs" >6.92285</text><rect x="1642" y="358" width="3" height="1" fill="#000"/><text x="1647" y="362" font-size="9.5" fill="#000" stroke="#000" stroke-width="0.2" text-anchor="start" textLength="33.0" lengthAdjust="spacingAndGlyphs" >6.88960</text><rect x="1642" y="391" width="3" height="1" fill="#000"/><text x="1647" y="395" font-size="9.5" fill="#000" stroke="#000" stroke-width="0.2" text-anchor="start" textLength="33.0" lengthAdjust="spacingAndGlyphs" >6.85635</text><rect x="1642" y="424" width="3" height="1" fill="#000"/><text x="1647" y="428" font-size="9.5" fill="#000" stroke="#000" stroke-width="0.2" text-anchor="start" textLength="33.0" lengthAdjust="spacingAndGlyphs" >6.82310</text><rect x="1642" y="457" width="3" height="1" fill="#000"/><text x="1647" y="461" font-size="9.5" fill="#000" stroke="#000" stroke-width="0.2" text-anchor="start" textLength="33.0" lengthAdjust="spacingAndGlyphs" >6.79080</text><rect x="1642" y="490" width="3" height="1" fill="#000"/><text x="1647" y="494" font-size="9.5" fill="#000" stroke="#000" stroke-width="0.2" text-anchor="start" textLength="33.0" lengthAdjust="spacingAndGlyphs" >6.75755</text><rect x="1642" y="523" width="3" height="1" fill="#000"/><text x="1647" y="527" font-size="9.5" fill="#000" stroke="#000" stroke-width="0.2" text-anchor="start" textLength="33.0" lengthAdjust="spacingAndGlyphs" >6.72430</text><rect x="1642" y="556" width="3" height="1" fill="#000"/><text x="1647" y="560" font-size="9.5" fill="#000" stroke="#000" stroke-width="0.2" text-anchor="start" textLength="33.0" lengthAdjust="spacingAndGlyphs" >6.69105</text><rect x="1642" y="589" width="3" height="1" fill="#000"/><text x="1647" y="593" font-size="9.5" fill="#000" stroke="#000" stroke-width="0.2" text-anchor="start" textLength="33.0" lengthAdjust="spacingAndGlyphs" >6.65875</text><rect x="1643" y="39" width="41" height="11" fill="#ff0000"/><text x="1647" y="49" font-size="9.5" fill="#fff" stroke="#fff" stroke-width="0.2" text-anchor="start" textLength="33.0" lengthAdjust="spacingAndGlyphs" >7.20193</text><rect x="1643" y="141" width="41" height="11" fill="#ff0000"/><text x="1647" y="151" font-size="9.5" fill="#fff" stroke="#fff" stroke-width="0.2" text-anchor="start" textLength="33.0" lengthAdjust="spacingAndGlyphs" >7.10011</text><rect x="1643" y="220" width="41" height="11" fill="#000000"/><text x="1647" y="230" font-size="9.5" fill="#fff" stroke="#fff" stroke-width="0.2" text-anchor="start" textLength="33.0" lengthAdjust="spacingAndGlyphs" >7.02249</text><rect x="1643" y="241" width="41" height="11" fill="#00ff00"/><text x="1647" y="251" font-size="9.5" fill="#fff" stroke="#fff" stroke-width="0.2" text-anchor="start" textLength="33.0" lengthAdjust="spacingAndGlyphs" >7.00029</text><rect x="1643" y="359" width="41" height="11" fill="#0000ff"/><text x="1647" y="369" font-size="9.5" fill="#fff" stroke="#fff" stroke-width="0.2" text-anchor="start" textLength="33.0" lengthAdjust="spacingAndGlyphs" >6.88250</text><rect x="1643" y="480" width="41" height="11" fill="#0000ff"/><text x="1647" y="490" font-size="9.5" fill="#fff" stroke="#fff" stroke-width="0.2" text-anchor="start" textLength="33.0" lengthAdjust="spacingAndGlyphs" >6.76171</text><text x="1645" y="605" font-size="10" fill="#000" stroke="#000" stroke-width="0.2" text-anchor="start" textLength="15.0" lengthAdjust="spacingAndGlyphs" >100</text><text x="1645" y="630" font-size="10" fill="#000" stroke="#000" stroke-width="0.2" text-anchor="start" textLength="10.0" lengthAdjust="spacingAndGlyphs" >70</text><text x="1645" y="671" font-size="10" fill="#000" stroke="#000" stroke-width="0.2" text-anchor="start" textLength="10.0" lengthAdjust="spacingAndGlyphs" >30</text><text x="1645" y="695" font-size="10" fill="#000" stroke="#000" stroke-width="0.2" text-anchor="start" textLength="5.0" lengthAdjust="spacingAndGlyphs" >0</text><rect x="1642" y="764" width="2" height="1" fill="#000"/><rect x="1642" y="596" width="2" height="1" fill="#000"/><text x="1645" y="711" font-size="10" fill="#000" stroke="#000" stroke-width="0.2" text-anchor="start" textLength="37.7" lengthAdjust="spacingAndGlyphs" >0.063113</text><text x="1645" y="768" font-size="10" fill="#000" stroke="#000" stroke-width="0.2" text-anchor="start" textLength="17.7" lengthAdjust="spacingAndGlyphs" >0.00</text><text x="1645" y="800" font-size="10" fill="#000" stroke="#000" stroke-width="0.2" text-anchor="start" textLength="41.3" lengthAdjust="spacingAndGlyphs" >-0.038872</text><path d="M8 32H15L11.5 36Z" fill="#000"/><text x="20" y="37" font-size="10" fill="#000" stroke="#000" stroke-width="0.2" text-anchor="start" textLength="65.5" lengthAdjust="spacingAndGlyphs" >USDCNH,Daily</text><text x="92" y="37" font-size="10" fill="#000" stroke="#000" stroke-width="0.2" text-anchor="start" textLength="141.5" lengthAdjust="spacingAndGlyphs" >7.02862 7.03022 7.01800 7.02249</text><text x="9" y="607" font-size="10" fill="#000" stroke="#000" stroke-width="0.2" text-anchor="start" textLength="68.5" lengthAdjust="spacingAndGlyphs" >RSI(14) 58.3861</text><text x="9" y="713" font-size="10" fill="#000" stroke="#000" stroke-width="0.2" text-anchor="start" textLength="148.5" lengthAdjust="spacingAndGlyphs" >MACD(12,26,9) 0.017041 0.015874</text><rect x="5" y="804" width="1" height="3" fill="#000"/><text x="4" y="816" font-size="9.2" fill="#000" stroke="#000" stroke-width="0.2" text-anchor="start" textLength="47.0" lengthAdjust="spacingAndGlyphs" >6 Feb 2019</text><rect x="69" y="804" width="1" height="3" fill="#000"/><text x="68" y="816" font-size="9.2" fill="#000" stroke="#000" stroke-width="0.2" text-anchor="start" textLength="52.0" lengthAdjust="spacingAndGlyphs" >25 Feb 2019</text><rect x="133" y="804" width="1" height="3" fill="#000"/><text x="132" y="816" font-size="9.2" fill="#000" stroke="#000" stroke-width="0.2" text-anchor="start" textLength="52.0" lengthAdjust="spacingAndGlyphs" >15 Mar 2019</text><rect x="197" y="804" width="1" height="3" fill="#000"/><text x="196" y="816" font-size="9.2" fill="#000" stroke="#000" stroke-width="0.2" text-anchor="start" textLength="47.0" lengthAdjust="spacingAndGlyphs" >3 Apr 2019</text><rect x="261" y="804" width="1" height="3" fill="#000"/><text x="260" y="816" font-size="9.2" fill="#000" stroke="#000" stroke-width="0.2" text-anchor="start" textLength="52.0" lengthAdjust="spacingAndGlyphs" >23 Apr 2019</text><rect x="325" y="804" width="1" height="3" fill="#000"/><text x="324" y="816" font-size="9.2" fill="#000" stroke="#000" stroke-width="0.2" text-anchor="start" textLength="52.0" lengthAdjust="spacingAndGlyphs" >17 May 2019</text><rect x="389" y="804" width="1" height="3" fill="#000"/><text x="388" y="816" font-size="9.2" fill="#000" stroke="#000" stroke-width="0.2" text-anchor="start" textLength="47.0" lengthAdjust="spacingAndGlyphs" >5 Jun 2019</text><rect x="453" y="804" width="1" height="3" fill="#000"/><text x="452" y="816" font-size="9.2" fill="#000" stroke="#000" stroke-width="0.2" text-anchor="start" textLength="52.0" lengthAdjust="spacingAndGlyphs" >24 Jun 2019</text><rect x="517" y="804" width="1" height="3" fill="#000"/><text x="516" y="816" font-size="9.2" fill="#000" stroke="#000" stroke-width="0.2" text-anchor="start" textLength="52.0" lengthAdjust="spacingAndGlyphs" >12 Jul 2019</text><rect x="581" y="804" width="1" height="3" fill="#000"/><text x="580" y="816" font-size="9.2" fill="#000" stroke="#000" stroke-width="0.2" text-anchor="start" textLength="52.0" lengthAdjust="spacingAndGlyphs" >31 Jul 2019</text><rect x="645" y="804" width="1" height="3" fill="#000"/><text x="644" y="816" font-size="9.2" fill="#000" stroke="#000" stroke-width="0.2" text-anchor="start" textLength="52.0" lengthAdjust="spacingAndGlyphs" >19 Aug 2019</text><rect x="709" y="804" width="1" height="3" fill="#000"/><text x="708" y="816" font-size="9.2" fill="#000" stroke="#000" stroke-width="0.2" text-anchor="start" textLength="47.0" lengthAdjust="spacingAndGlyphs" >6 Sep 2019</text><rect x="773" y="804" width="1" height="3" fill="#000"/><text x="772" y="816" font-size="9.2" fill="#000" stroke="#000" stroke-width="0.2" text-anchor="start" textLength="52.0" lengthAdjust="spacingAndGlyphs" >25 Sep 2019</text><rect x="837" y="804" width="1" height="3" fill="#000"/><text x="836" y="816" font-size="9.2" fill="#000" stroke="#000" stroke-width="0.2" text-anchor="start" textLength="52.0" lengthAdjust="spacingAndGlyphs" >14 Oct 2019</text><rect x="901" y="804" width="1" height="3" fill="#000"/><text x="900" y="816" font-size="9.2" fill="#000" stroke="#000" stroke-width="0.2" text-anchor="start" textLength="47.0" lengthAdjust="spacingAndGlyphs" >1 Nov 2019</text><rect x="965" y="804" width="1" height="3" fill="#000"/><text x="964" y="816" font-size="9.2" fill="#000" stroke="#000" stroke-width="0.2" text-anchor="start" textLength="52.0" lengthAdjust="spacingAndGlyphs" >20 Nov 2019</text><rect x="1029" y="804" width="1" height="3" fill="#000"/><text x="1028" y="816" font-size="9.2" fill="#000" stroke="#000" stroke-width="0.2" text-anchor="start" textLength="47.0" lengthAdjust="spacingAndGlyphs" >9 Dec 2019</text><rect x="1093" y="804" width="1" height="3" fill="#000"/><text x="1092" y="816" font-size="9.2" fill="#000" stroke="#000" stroke-width="0.2" text-anchor="start" textLength="52.0" lengthAdjust="spacingAndGlyphs" >27 Dec 2019</text><rect x="1157" y="804" width="1" height="3" fill="#000"/><text x="1156" y="816" font-size="9.2" fill="#000" stroke="#000" stroke-width="0.2" text-anchor="start" textLength="52.0" lengthAdjust="spacingAndGlyphs" >15 Jan 2020</text><rect x="1221" y="804" width="1" height="3" fill="#000"/><text x="1220" y="816" font-size="9.2" fill="#000" stroke="#000" stroke-width="0.2" text-anchor="start" textLength="47.0" lengthAdjust="spacingAndGlyphs" >3 Feb 2020</text><rect x="1285" y="804" width="1" height="3" fill="#000"/><text x="1284" y="816" font-size="9.2" fill="#000" stroke="#000" stroke-width="0.2" text-anchor="start" textLength="52.0" lengthAdjust="spacingAndGlyphs" >21 Feb 2020</text><rect x="0" y="824" width="1685" height="1" fill="#e3e3e3"/><rect x="0" y="825" width="1685" height="1" fill="#ffffff"/><rect x="0" y="826" width="1685" height="1" fill="#000"/><rect x="0" y="827" width="1685" height="19" fill="#f0f0f0"/><rect x="0" y="827" width="1685" height="1" fill="#fbfbfb"/><rect x="0" y="846" width="1685" height="2" fill="#fafafa"/><rect x="407" y="826" width="102" height="18" fill="#fff"/><rect x="406" y="826" width="1" height="19" fill="#000"/><rect x="509" y="826" width="1" height="19" fill="#000"/><rect x="406" y="844" width="104" height="1" fill="#000"/><rect x="510" y="827" width="1" height="17" fill="#fbfbfb"/><text x="18.2" y="841" font-size="13" fill="#606060"  text-anchor="start" textLength="80.0" lengthAdjust="spacingAndGlyphs" >EURUSD,Daily</text><text x="119.9" y="841" font-size="13" fill="#606060"  text-anchor="start" textLength="79.3" lengthAdjust="spacingAndGlyphs" >USDCHF,Daily</text><text x="220.8" y="841" font-size="13" fill="#606060"  text-anchor="start" textLength="70.1" lengthAdjust="spacingAndGlyphs" >AUDUSD,H4</text><text x="313.1" y="841" font-size="13" fill="#606060"  text-anchor="start" textLength="81.2" lengthAdjust="spacingAndGlyphs" >USDCAD,Daily</text><text x="415.8" y="841" font-size="13" fill="#000" stroke="#000" stroke-width="0.15" text-anchor="start" textLength="83.7" lengthAdjust="spacingAndGlyphs" >USDCNH,Daily</text><text x="521.8" y="841" font-size="13" fill="#606060"  text-anchor="start" textLength="81.1" lengthAdjust="spacingAndGlyphs" >EURUSD,Daily</text><text x="625.6" y="841" font-size="13" fill="#606060"  text-anchor="start" textLength="80.5" lengthAdjust="spacingAndGlyphs" >GBPUSD,Daily</text><text x="728.5" y="841" font-size="13" fill="#606060"  text-anchor="start" textLength="69.6" lengthAdjust="spacingAndGlyphs" >XAUUSD,H1</text><text x="820.5" y="841" font-size="13" fill="#606060"  text-anchor="start" textLength="51.0" lengthAdjust="spacingAndGlyphs" >HK50,H1</text><text x="892.7" y="841" font-size="13" fill="#606060"  text-anchor="start" textLength="69.8" lengthAdjust="spacingAndGlyphs" >UK100,Daily</text><rect x="110" y="830" width="1" height="13" fill="#6d6d6d"/><rect x="210" y="830" width="1" height="13" fill="#6d6d6d"/><rect x="302" y="830" width="1" height="13" fill="#6d6d6d"/><rect x="614" y="830" width="1" height="13" fill="#6d6d6d"/><rect x="718" y="830" width="1" height="13" fill="#6d6d6d"/><rect x="810" y="830" width="1" height="13" fill="#6d6d6d"/><rect x="882" y="830" width="1" height="13" fill="#6d6d6d"/><rect x="974" y="830" width="1" height="13" fill="#6d6d6d"/><rect x="1" y="827" width="1" height="18" fill="#6d6d6d"/><path d="M1656 835L1660 831V839Z" fill="#a0a0a0" shape-rendering="auto"/><path d="M1680 835L1676 831V839Z" fill="#a0a0a0" shape-rendering="auto"/>
</svg></body></html>
